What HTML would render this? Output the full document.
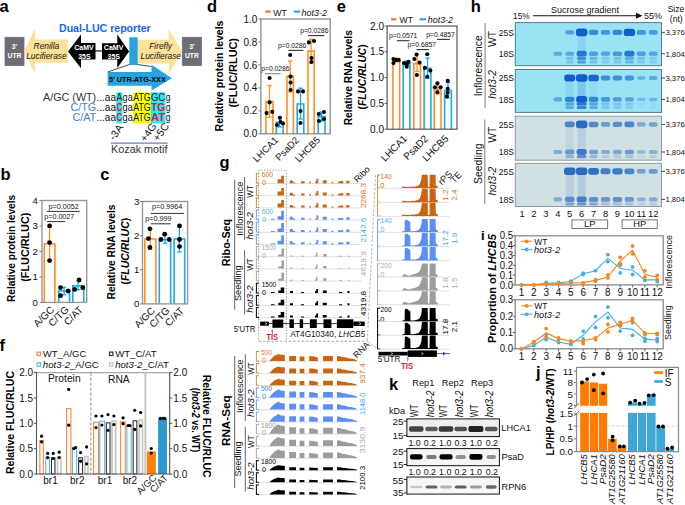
<!DOCTYPE html>
<html><head><meta charset="utf-8"><style>
html,body{margin:0;padding:0;background:#fff;width:685px;height:505px;overflow:hidden}
svg{display:block;font-family:"Liberation Sans", sans-serif}
</style></head><body>
<svg width="685" height="505" viewBox="0 0 685 505">
<defs>
<filter id="bl" x="-20%" y="-50%" width="140%" height="200%"><feGaussianBlur stdDeviation="0.7"/></filter>
<filter id="bl2" x="-20%" y="-50%" width="140%" height="200%"><feGaussianBlur stdDeviation="1.0"/></filter>
</defs>
<text x="-0.5" y="11.8" font-weight="bold" font-size="16.5" >a</text>
<rect x="5" y="37.3" width="19" height="28.2" fill="#6e6e72" stroke="#5f6f9f" stroke-width="0.8" />
<text x="14.5" y="48.5" text-anchor="middle" font-weight="bold" fill="#fff" font-size="6.8" >3'</text>
<text x="14.5" y="57.9" text-anchor="middle" font-weight="bold" fill="#fff" font-size="6.8" >UTR</text>
<rect x="182.3" y="37.3" width="19.2" height="28.2" fill="#6e6e72" stroke="#5f6f9f" stroke-width="0.8" />
<text x="191.9" y="48.5" text-anchor="middle" font-weight="bold" fill="#fff" font-size="6.8" >3'</text>
<text x="191.9" y="57.9" text-anchor="middle" font-weight="bold" fill="#fff" font-size="6.8" >UTR</text>
<path d="M24 51.2 L35 28.6 L35 39.4 L68 39.4 L68 62.8 L35 62.8 L35 73.8 Z" fill="#fde29b" />
<path d="M137.7 39.8 L168.7 39.8 L168.7 28.9 L182.3 51.4 L168.7 73.9 L168.7 63.4 L137.7 63.4 Z" fill="#fde29b" />
<text x="46.4" y="48.5" text-anchor="middle" font-style="italic" fill="#111" font-size="8.4" >Renilla</text>
<text x="46.4" y="58.8" text-anchor="middle" font-style="italic" fill="#111" font-size="8.4" >Lucifierase</text>
<text x="160.6" y="49" text-anchor="middle" font-style="italic" fill="#111" font-size="8.4" >Firefly</text>
<text x="160.8" y="59.4" text-anchor="middle" font-style="italic" fill="#111" font-size="8.4" >Lucifierase</text>
<path d="M68 51.4 L81 34.6 L81 43 L95.5 43 L95.5 59.6 L81 59.6 L81 68.3 Z" fill="#000" />
<line x1="95" y1="51" x2="102.5" y2="51" stroke="#000" stroke-width="1.1" />
<path d="M102 43.2 L117.3 43.2 L117.3 34.6 L129.1 51.4 L117.3 68.1 L117.3 59.5 L102 59.5 Z" fill="#000" />
<text x="84" y="49.5" text-anchor="middle" font-weight="bold" fill="#fff" font-size="7" >CaMV</text>
<text x="84.4" y="58.6" text-anchor="middle" font-weight="bold" fill="#fff" font-size="7" >35S</text>
<text x="113.6" y="49.5" text-anchor="middle" font-weight="bold" fill="#fff" font-size="7" >CaMV</text>
<text x="113.8" y="58.6" text-anchor="middle" font-weight="bold" fill="#fff" font-size="7" >35S</text>
<rect x="129.3" y="37.3" width="8.4" height="27.7" fill="#27a4dd" />
<text x="59" y="31.7" font-weight="bold" fill="#1763f5" textLength="91.7" lengthAdjust="spacingAndGlyphs" font-size="10.6" >Dual-LUC reporter</text>
<line x1="129.5" y1="64.5" x2="107.7" y2="72" stroke="#000" stroke-width="0.7" />
<line x1="137.5" y1="64.5" x2="151.5" y2="66.5" stroke="#000" stroke-width="0.7" />
<path d="M107.7 72 L151.5 72 L151.5 64.8 L171.9 78.2 L151.5 90.6 L151.5 85.8 L107.7 85.8 Z" fill="#27a4dd" />
<text x="109" y="81.9" font-weight="bold" textLength="56.8" lengthAdjust="spacingAndGlyphs" font-size="7" >5' UTR-ATG-XXX</text>
<rect x="116.3" y="92.3" width="6.1" height="31.2" fill="#33e6f2" />
<rect x="133" y="92.3" width="17.8" height="31.2" fill="#ffff00" />
<rect x="150.8" y="92.3" width="14.7" height="31.2" fill="#33e6f2" />
<text x="43" y="100.8" fill="#333" textLength="53.2" lengthAdjust="spacingAndGlyphs" font-size="10.8" >A/GC (WT)</text>
<text x="96.4" y="100.8" fill="#111" textLength="19.6" lengthAdjust="spacingAndGlyphs" font-size="10.8" >...aa</text>
<text x="116.6" y="100.8" fill="#222" textLength="5.8" lengthAdjust="spacingAndGlyphs" font-size="10.8" >A</text>
<text x="122.6" y="100.8" fill="#111" textLength="10.2" lengthAdjust="spacingAndGlyphs" font-size="10.8" >ga</text>
<text x="133.2" y="100.8" fill="#111" textLength="17.4" lengthAdjust="spacingAndGlyphs" font-size="10.8" >ATG</text>
<text x="151" y="100.8" fill="#222" textLength="14.2" lengthAdjust="spacingAndGlyphs" font-size="10.8" >GC</text>
<text x="165.8" y="100.8" fill="#111" textLength="4.8" lengthAdjust="spacingAndGlyphs" font-size="10.8" >g</text>
<text x="96.2" y="110.7" text-anchor="end" fill="#3c7fd4" font-size="10.8" >C/TG</text>
<text x="96.4" y="110.7" fill="#111" textLength="19.6" lengthAdjust="spacingAndGlyphs" font-size="10.8" >...aa</text>
<text x="116.6" y="110.7" font-weight="bold" fill="#c8233f" textLength="5.8" lengthAdjust="spacingAndGlyphs" font-size="10.8" >C</text>
<text x="122.6" y="110.7" fill="#111" textLength="10.2" lengthAdjust="spacingAndGlyphs" font-size="10.8" >ga</text>
<text x="133.2" y="110.7" fill="#111" textLength="17.4" lengthAdjust="spacingAndGlyphs" font-size="10.8" >ATG</text>
<text x="151" y="110.7" font-weight="bold" fill="#c8233f" textLength="14.2" lengthAdjust="spacingAndGlyphs" font-size="10.8" >TG</text>
<text x="165.8" y="110.7" fill="#111" textLength="4.8" lengthAdjust="spacingAndGlyphs" font-size="10.8" >g</text>
<text x="96.2" y="121.1" text-anchor="end" fill="#3c7fd4" font-size="10.8" >C/AT</text>
<text x="96.4" y="121.1" fill="#111" textLength="19.6" lengthAdjust="spacingAndGlyphs" font-size="10.8" >...aa</text>
<text x="116.6" y="121.1" font-weight="bold" fill="#c8233f" textLength="5.8" lengthAdjust="spacingAndGlyphs" font-size="10.8" >C</text>
<text x="122.6" y="121.1" fill="#111" textLength="10.2" lengthAdjust="spacingAndGlyphs" font-size="10.8" >ga</text>
<text x="133.2" y="121.1" fill="#111" textLength="17.4" lengthAdjust="spacingAndGlyphs" font-size="10.8" >ATG</text>
<text x="151" y="121.1" font-weight="bold" fill="#c8233f" textLength="14.2" lengthAdjust="spacingAndGlyphs" font-size="10.8" >AT</text>
<text x="165.8" y="121.1" fill="#111" textLength="4.8" lengthAdjust="spacingAndGlyphs" font-size="10.8" >g</text>
<text transform="translate(114.3,141) rotate(-55)" fill="#111" font-size="10.5" >-3A</text>
<text transform="translate(145.5,142.6) rotate(-55)" fill="#111" font-size="10.5" >+4G</text>
<text transform="translate(158.3,142) rotate(-55)" fill="#111" font-size="10.5" >+5C</text>
<line x1="111" y1="143.2" x2="167.5" y2="143.2" stroke="#6b7fb5" stroke-width="1.2" />
<text x="111" y="153" fill="#333" textLength="56.5" lengthAdjust="spacingAndGlyphs" font-size="10.8" >Kozak motif</text>
<text x="0.5" y="179.9" font-weight="bold" font-size="16.5" >b</text>
<path d="M44.3 302.4 L44.3 243.81 L54.9 243.81 L54.9 302.4" fill="none" stroke="#ff8f1f" stroke-width="1.6" />
<path d="M58.7 302.4 L58.7 290.94 L69.5 290.94 L69.5 302.4" fill="none" stroke="#1aa8ef" stroke-width="1.6" />
<path d="M72.8 302.4 L72.8 285.84 L83.7 285.84 L83.7 302.4" fill="none" stroke="#1aa8ef" stroke-width="1.6" />
<line x1="49.6" y1="225.97" x2="49.6" y2="261.13" stroke="#ff8f1f" stroke-width="1.3" />
<line x1="47.4" y1="225.97" x2="51.8" y2="225.97" stroke="#ff8f1f" stroke-width="1.3" />
<line x1="47.4" y1="261.13" x2="51.8" y2="261.13" stroke="#ff8f1f" stroke-width="1.3" />
<line x1="64.1" y1="287.12" x2="64.1" y2="294.76" stroke="#1aa8ef" stroke-width="1.3" />
<line x1="61.9" y1="287.12" x2="66.3" y2="287.12" stroke="#1aa8ef" stroke-width="1.3" />
<line x1="61.9" y1="294.76" x2="66.3" y2="294.76" stroke="#1aa8ef" stroke-width="1.3" />
<line x1="78.2" y1="280.75" x2="78.2" y2="289.66" stroke="#1aa8ef" stroke-width="1.3" />
<line x1="76" y1="280.75" x2="80.4" y2="280.75" stroke="#1aa8ef" stroke-width="1.3" />
<line x1="76" y1="289.66" x2="80.4" y2="289.66" stroke="#1aa8ef" stroke-width="1.3" />
<circle cx="49.6" cy="225.9" r="2.4" fill="#000"/>
<circle cx="49.6" cy="242.6" r="2.4" fill="#000"/>
<circle cx="49.6" cy="260.6" r="2.4" fill="#000"/>
<circle cx="60.5" cy="287.7" r="2.4" fill="#000"/>
<circle cx="68.2" cy="291" r="2.4" fill="#000"/>
<circle cx="60.5" cy="295.7" r="2.4" fill="#000"/>
<circle cx="74.7" cy="289.4" r="2.4" fill="#000"/>
<circle cx="79.1" cy="280" r="2.4" fill="#000"/>
<circle cx="82.8" cy="287.7" r="2.4" fill="#000"/>
<rect x="42" y="200.5" width="44.7" height="101.9" fill="none" stroke="#999" stroke-width="1.4" />
<line x1="39.5" y1="302.4" x2="42" y2="302.4" stroke="#808080" stroke-width="1" />
<text x="37.9" y="305.8" text-anchor="end" fill="#111" font-size="9.6" >0</text>
<line x1="39.5" y1="276.92" x2="42" y2="276.92" stroke="#808080" stroke-width="1" />
<text x="37.9" y="280.32" text-anchor="end" fill="#111" font-size="9.6" >1</text>
<line x1="39.5" y1="251.45" x2="42" y2="251.45" stroke="#808080" stroke-width="1" />
<text x="37.9" y="254.85" text-anchor="end" fill="#111" font-size="9.6" >2</text>
<line x1="39.5" y1="225.97" x2="42" y2="225.97" stroke="#808080" stroke-width="1" />
<text x="37.9" y="229.38" text-anchor="end" fill="#111" font-size="9.6" >3</text>
<line x1="39.5" y1="200.5" x2="42" y2="200.5" stroke="#808080" stroke-width="1" />
<text x="37.9" y="203.9" text-anchor="end" fill="#111" font-size="9.6" >4</text>
<text x="63.6" y="208.5" text-anchor="middle" fill="#111" font-size="7.2" >p=0.0052</text>
<line x1="47" y1="211.4" x2="79.7" y2="211.4" stroke="#333" stroke-width="1" />
<text x="44.2" y="219" fill="#111" font-size="7.2" >p=0.0027</text>
<line x1="47" y1="221.6" x2="65.3" y2="221.6" stroke="#333" stroke-width="1" />
<text transform="translate(15,248.4) rotate(-90)" text-anchor="middle" font-weight="bold" textLength="107.2" lengthAdjust="spacingAndGlyphs" font-size="10.3" >Relative protein levels</text>
<text transform="translate(29,247.2) rotate(-90)" text-anchor="middle" font-weight="bold" textLength="69.1" lengthAdjust="spacingAndGlyphs" font-size="10.3" >(FLUC/RLUC)</text>
<text transform="translate(54.9,310.3) rotate(-45)" text-anchor="end" fill="#111" font-size="10" >A/GC</text>
<text transform="translate(69.4,310.3) rotate(-45)" text-anchor="end" fill="#111" font-size="10" >C/TG</text>
<text transform="translate(83.5,310.3) rotate(-45)" text-anchor="end" fill="#111" font-size="10" >C/AT</text>
<text x="100.3" y="179.9" font-weight="bold" font-size="16.5" >c</text>
<path d="M144.8 303.9 L144.8 239.05 L155.9 239.05 L155.9 303.9" fill="none" stroke="#ff8f1f" stroke-width="1.6" />
<path d="M159.3 303.9 L159.3 239.73 L170.7 239.73 L170.7 303.9" fill="none" stroke="#1aa8ef" stroke-width="1.6" />
<path d="M174.1 303.9 L174.1 239.05 L184.7 239.05 L184.7 303.9" fill="none" stroke="#1aa8ef" stroke-width="1.6" />
<line x1="150.4" y1="228.81" x2="150.4" y2="249.29" stroke="#ff8f1f" stroke-width="1.3" />
<line x1="148.2" y1="228.81" x2="152.6" y2="228.81" stroke="#ff8f1f" stroke-width="1.3" />
<line x1="148.2" y1="249.29" x2="152.6" y2="249.29" stroke="#ff8f1f" stroke-width="1.3" />
<line x1="165" y1="234.95" x2="165" y2="243.14" stroke="#1aa8ef" stroke-width="1.3" />
<line x1="162.8" y1="234.95" x2="167.2" y2="234.95" stroke="#1aa8ef" stroke-width="1.3" />
<line x1="162.8" y1="243.14" x2="167.2" y2="243.14" stroke="#1aa8ef" stroke-width="1.3" />
<line x1="179.4" y1="225.39" x2="179.4" y2="252.02" stroke="#1aa8ef" stroke-width="1.3" />
<line x1="177.2" y1="225.39" x2="181.6" y2="225.39" stroke="#1aa8ef" stroke-width="1.3" />
<line x1="177.2" y1="252.02" x2="181.6" y2="252.02" stroke="#1aa8ef" stroke-width="1.3" />
<circle cx="149.9" cy="228.8" r="2.4" fill="#000"/>
<circle cx="148.4" cy="238.6" r="2.4" fill="#000"/>
<circle cx="149.9" cy="247.5" r="2.4" fill="#000"/>
<circle cx="160.9" cy="239.5" r="2.4" fill="#000"/>
<circle cx="164.7" cy="234.2" r="2.4" fill="#000"/>
<circle cx="169.2" cy="239.5" r="2.4" fill="#000"/>
<circle cx="179.5" cy="225.9" r="2.4" fill="#000"/>
<circle cx="179.5" cy="239.5" r="2.4" fill="#000"/>
<circle cx="179.5" cy="246.6" r="2.4" fill="#000"/>
<rect x="142.5" y="201.5" width="45.1" height="102.4" fill="none" stroke="#999" stroke-width="1.4" />
<line x1="140" y1="303.9" x2="142.5" y2="303.9" stroke="#808080" stroke-width="1" />
<text x="139.3" y="307.3" text-anchor="end" fill="#111" font-size="9.6" >0</text>
<line x1="140" y1="269.77" x2="142.5" y2="269.77" stroke="#808080" stroke-width="1" />
<text x="139.3" y="273.17" text-anchor="end" fill="#111" font-size="9.6" >1</text>
<line x1="140" y1="235.63" x2="142.5" y2="235.63" stroke="#808080" stroke-width="1" />
<text x="139.3" y="239.03" text-anchor="end" fill="#111" font-size="9.6" >2</text>
<line x1="140" y1="201.5" x2="142.5" y2="201.5" stroke="#808080" stroke-width="1" />
<text x="139.3" y="204.9" text-anchor="end" fill="#111" font-size="9.6" >3</text>
<text x="167.2" y="209" text-anchor="middle" fill="#111" font-size="7.2" >p=0.9964</text>
<line x1="150.8" y1="213.4" x2="184" y2="213.4" stroke="#333" stroke-width="1" />
<text x="145.3" y="220.8" fill="#111" font-size="7.2" >p=0.999</text>
<line x1="150.8" y1="223.8" x2="170.6" y2="223.8" stroke="#333" stroke-width="1" />
<text transform="translate(115,252) rotate(-90)" text-anchor="middle" font-weight="bold" textLength="95" lengthAdjust="spacingAndGlyphs" font-size="10.3" >Relative RNA levels</text>
<text transform="translate(129,251.2) rotate(-90)" text-anchor="middle" font-weight="bold" textLength="66.8" lengthAdjust="spacingAndGlyphs" font-size="10.3" >(<tspan font-style="italic">FLUC/RLUC</tspan>)</text>
<text transform="translate(155.7,311.3) rotate(-45)" text-anchor="end" fill="#111" font-size="10" >A/GC</text>
<text transform="translate(170.3,311.3) rotate(-45)" text-anchor="end" fill="#111" font-size="10" >C/TG</text>
<text transform="translate(184.7,311.3) rotate(-45)" text-anchor="end" fill="#111" font-size="10" >C/AT</text>
<text x="-0.5" y="351.4" font-weight="bold" font-size="16.5" >f</text>
<rect x="37.1" y="352.1" width="3.4" height="3.4" fill="#fff" stroke="#f58a4b" stroke-width="1.2" />
<text x="42.8" y="357.1" fill="#111" font-size="9.6" >WT_A/GC</text>
<rect x="37.1" y="362.8" width="3.4" height="3.4" fill="#fff" stroke="#5ab8ee" stroke-width="1.2" />
<text x="42.8" y="367.8" fill="#111" font-size="9.6" ><tspan font-style="italic">hot3-2</tspan>_A/GC</text>
<rect x="109.5" y="352.1" width="3.4" height="3.4" fill="#fff" stroke="#333" stroke-width="1.2" />
<text x="115.2" y="357.1" fill="#111" font-size="9.6" >WT_C/AT</text>
<rect x="109.5" y="362.8" width="3.4" height="3.4" fill="#fff" stroke="#c4c4c4" stroke-width="1.2" />
<text x="115.2" y="367.8" fill="#111" font-size="9.6" ><tspan font-style="italic">hot3-2</tspan>_C/AT</text>
<rect x="39.85" y="440.58" width="3.5" height="33.42" fill="#fffaf5" stroke="#f58a4b" stroke-width="1.1" />
<rect x="45.75" y="457.31" width="3.7" height="16.69" fill="#fff" stroke="#5ab8ee" stroke-width="1.1" />
<rect x="51.45" y="457.82" width="3.5" height="16.18" fill="#fff" stroke="#333" stroke-width="1.1" />
<rect x="57.5" y="457.06" width="3.4" height="16.94" fill="#fff" stroke="#c4c4c4" stroke-width="1.6" />
<rect x="66.55" y="408.64" width="4.3" height="65.36" fill="#fffaf5" stroke="#f58a4b" stroke-width="1.1" />
<rect x="72.45" y="447.17" width="4.2" height="26.83" fill="#fff" stroke="#5ab8ee" stroke-width="1.1" />
<rect x="78.65" y="457.82" width="3.9" height="16.18" fill="#fff" stroke="#333" stroke-width="1.1" />
<rect x="85" y="456.55" width="3" height="17.45" fill="#fff" stroke="#c4c4c4" stroke-width="1.6" />
<rect x="93.55" y="422.33" width="4.9" height="51.67" fill="#fffaf5" stroke="#f58a4b" stroke-width="1.1" />
<rect x="99.75" y="421.31" width="4.9" height="52.69" fill="#fff" stroke="#5ab8ee" stroke-width="1.1" />
<rect x="106.35" y="422.84" width="3.7" height="51.16" fill="#fff" stroke="#333" stroke-width="1.1" />
<rect x="112" y="421.06" width="3.7" height="52.94" fill="#fff" stroke="#c4c4c4" stroke-width="1.6" />
<rect x="120.65" y="421.82" width="4.6" height="52.18" fill="#fffaf5" stroke="#f58a4b" stroke-width="1.1" />
<rect x="126.85" y="425.88" width="4.3" height="48.12" fill="#fff" stroke="#5ab8ee" stroke-width="1.1" />
<rect x="133.15" y="420.81" width="3.7" height="53.19" fill="#fff" stroke="#333" stroke-width="1.1" />
<rect x="139.1" y="420.04" width="3.4" height="53.96" fill="#fff" stroke="#c4c4c4" stroke-width="1.6" />
<rect x="146.9" y="451.4" width="8.9" height="22.6" fill="#ff7f00" />
<rect x="158.1" y="418.7" width="8.9" height="55.3" fill="#2f97cf" />
<circle cx="41.6" cy="436.2" r="1.6" fill="#000"/>
<circle cx="41.6" cy="441.8" r="1.6" fill="#000"/>
<circle cx="47.6" cy="453.4" r="1.6" fill="#000"/>
<circle cx="47.6" cy="457.6" r="1.6" fill="#000"/>
<circle cx="53.2" cy="453.4" r="1.6" fill="#000"/>
<circle cx="53.2" cy="458.5" r="1.6" fill="#000"/>
<circle cx="59.2" cy="452.2" r="1.6" fill="#000"/>
<circle cx="59.2" cy="457.6" r="1.6" fill="#000"/>
<circle cx="68.7" cy="389.4" r="1.6" fill="#000"/>
<circle cx="68.7" cy="425.2" r="1.6" fill="#000"/>
<circle cx="73.9" cy="448.6" r="1.6" fill="#000"/>
<circle cx="75.6" cy="447.5" r="1.6" fill="#000"/>
<circle cx="80.6" cy="452.6" r="1.6" fill="#000"/>
<circle cx="80.6" cy="461.2" r="1.6" fill="#000"/>
<circle cx="86.6" cy="446.9" r="1.6" fill="#000"/>
<circle cx="86.6" cy="463.8" r="1.6" fill="#000"/>
<circle cx="96" cy="416" r="1.6" fill="#000"/>
<circle cx="96" cy="427.6" r="1.6" fill="#000"/>
<circle cx="101.9" cy="416" r="1.6" fill="#000"/>
<circle cx="101.9" cy="425" r="1.6" fill="#000"/>
<circle cx="108" cy="414.6" r="1.6" fill="#000"/>
<circle cx="108" cy="430.3" r="1.6" fill="#000"/>
<circle cx="113.9" cy="416" r="1.6" fill="#000"/>
<circle cx="113.9" cy="424.6" r="1.6" fill="#000"/>
<circle cx="123.1" cy="417.8" r="1.6" fill="#000"/>
<circle cx="123.1" cy="423.7" r="1.6" fill="#000"/>
<circle cx="128.1" cy="425.5" r="1.6" fill="#000"/>
<circle cx="129.9" cy="425.5" r="1.6" fill="#000"/>
<circle cx="134.7" cy="410.3" r="1.6" fill="#000"/>
<circle cx="134.7" cy="429.4" r="1.6" fill="#000"/>
<circle cx="140.6" cy="412.5" r="1.6" fill="#000"/>
<circle cx="140.6" cy="425.9" r="1.6" fill="#000"/>
<circle cx="151.3" cy="448.5" r="1.6" fill="#000"/>
<circle cx="151.3" cy="453.1" r="1.6" fill="#000"/>
<circle cx="160.2" cy="418.4" r="1.6" fill="#000"/>
<circle cx="162.9" cy="418.4" r="1.6" fill="#000"/>
<circle cx="164.7" cy="418.4" r="1.6" fill="#000"/>
<line x1="36.5" y1="372.6" x2="169.7" y2="372.6" stroke="#a8a8a8" stroke-width="1.4" />
<line x1="36.5" y1="371.9" x2="36.5" y2="474.5" stroke="#555" stroke-width="1.1" />
<line x1="36" y1="474" x2="170.2" y2="474" stroke="#555" stroke-width="1.1" />
<line x1="169.7" y1="371.9" x2="169.7" y2="474.5" stroke="#555" stroke-width="1.1" />
<line x1="90.9" y1="372.6" x2="90.9" y2="474" stroke="#777" stroke-width="0.9" stroke-dasharray="3,2"/>
<line x1="145.4" y1="372.6" x2="145.4" y2="474" stroke="#c4c4c4" stroke-width="2" />
<line x1="33.8" y1="474" x2="36.5" y2="474" stroke="#555" stroke-width="1" />
<text x="33.2" y="477.6" text-anchor="end" fill="#111" font-size="10" >0.0</text>
<line x1="169.7" y1="474" x2="172.4" y2="474" stroke="#555" stroke-width="1" />
<text x="173.3" y="477.6" fill="#111" font-size="10" >0.0</text>
<line x1="33.8" y1="448.65" x2="36.5" y2="448.65" stroke="#555" stroke-width="1" />
<text x="33.2" y="452.25" text-anchor="end" fill="#111" font-size="10" >0.5</text>
<line x1="169.7" y1="448.65" x2="172.4" y2="448.65" stroke="#555" stroke-width="1" />
<text x="173.3" y="452.25" fill="#111" font-size="10" >0.5</text>
<line x1="33.8" y1="423.3" x2="36.5" y2="423.3" stroke="#555" stroke-width="1" />
<text x="33.2" y="426.9" text-anchor="end" fill="#111" font-size="10" >1.0</text>
<line x1="169.7" y1="423.3" x2="172.4" y2="423.3" stroke="#555" stroke-width="1" />
<text x="173.3" y="426.9" fill="#111" font-size="10" >1.0</text>
<line x1="33.8" y1="397.95" x2="36.5" y2="397.95" stroke="#555" stroke-width="1" />
<text x="33.2" y="401.55" text-anchor="end" fill="#111" font-size="10" >1.5</text>
<line x1="169.7" y1="397.95" x2="172.4" y2="397.95" stroke="#555" stroke-width="1" />
<text x="173.3" y="401.55" fill="#111" font-size="10" >1.5</text>
<line x1="33.8" y1="372.6" x2="36.5" y2="372.6" stroke="#555" stroke-width="1" />
<text x="33.2" y="376.2" text-anchor="end" fill="#111" font-size="10" >2.0</text>
<line x1="169.7" y1="372.6" x2="172.4" y2="372.6" stroke="#555" stroke-width="1" />
<text x="173.3" y="376.2" fill="#111" font-size="10" >2.0</text>
<text x="48" y="381.7" fill="#111" font-size="10.3" >Protein</text>
<text x="108" y="383" fill="#111" font-size="10.3" >RNA</text>
<text x="50.5" y="483.8" text-anchor="middle" fill="#111" font-size="10" >br1</text>
<text x="77.3" y="483.8" text-anchor="middle" fill="#111" font-size="10" >br2</text>
<text x="105" y="483.8" text-anchor="middle" fill="#111" font-size="10" >br1</text>
<text x="129.9" y="483.8" text-anchor="middle" fill="#111" font-size="10" >br2</text>
<text transform="translate(157,478.5) rotate(-45)" text-anchor="end" fill="#111" font-size="9.5" >A/GC</text>
<text transform="translate(168.5,478.5) rotate(-45)" text-anchor="end" fill="#111" font-size="9.5" >C/AT</text>
<text transform="translate(13.8,422.5) rotate(-90)" text-anchor="middle" font-weight="bold" textLength="103" lengthAdjust="spacingAndGlyphs" font-size="10.3" >Relative FLUC/RLUC</text>
<text transform="translate(191.5,420) rotate(90)" text-anchor="middle" font-weight="bold" textLength="64.3" lengthAdjust="spacingAndGlyphs" font-size="10" >(<tspan font-style="italic">hot3-2</tspan> vs. WT)</text>
<text transform="translate(203,426.2) rotate(90)" text-anchor="middle" font-weight="bold" textLength="103" lengthAdjust="spacingAndGlyphs" font-size="10" >Relative FLUC/RLUC</text>
<text x="207" y="11.8" font-weight="bold" font-size="16.5" >d</text>
<path d="M266 133.8 L266 101.66 L272.9 101.66 L272.9 133.8" fill="none" stroke="#ff8f1f" stroke-width="1.6" />
<line x1="269.45" y1="85.5" x2="269.45" y2="117.2" stroke="#ff8f1f" stroke-width="1.3" />
<line x1="267.25" y1="85.5" x2="271.65" y2="85.5" stroke="#ff8f1f" stroke-width="1.3" />
<line x1="267.25" y1="117.2" x2="271.65" y2="117.2" stroke="#ff8f1f" stroke-width="1.3" />
<path d="M276.3 133.8 L276.3 122.32 L283.1 122.32 L283.1 133.8" fill="none" stroke="#1aa8ef" stroke-width="1.6" />
<line x1="279.7" y1="117.5" x2="279.7" y2="127" stroke="#1aa8ef" stroke-width="1.3" />
<line x1="277.5" y1="117.5" x2="281.9" y2="117.5" stroke="#1aa8ef" stroke-width="1.3" />
<line x1="277.5" y1="127" x2="281.9" y2="127" stroke="#1aa8ef" stroke-width="1.3" />
<path d="M287 133.8 L287 76.4 L293.4 76.4 L293.4 133.8" fill="none" stroke="#ff8f1f" stroke-width="1.6" />
<line x1="290.2" y1="61" x2="290.2" y2="92" stroke="#ff8f1f" stroke-width="1.3" />
<line x1="288" y1="61" x2="292.4" y2="61" stroke="#ff8f1f" stroke-width="1.3" />
<line x1="288" y1="92" x2="292.4" y2="92" stroke="#ff8f1f" stroke-width="1.3" />
<path d="M297.2 133.8 L297.2 103.95 L303.8 103.95 L303.8 133.8" fill="none" stroke="#1aa8ef" stroke-width="1.6" />
<line x1="300.5" y1="88.2" x2="300.5" y2="119" stroke="#1aa8ef" stroke-width="1.3" />
<line x1="298.3" y1="88.2" x2="302.7" y2="88.2" stroke="#1aa8ef" stroke-width="1.3" />
<line x1="298.3" y1="119" x2="302.7" y2="119" stroke="#1aa8ef" stroke-width="1.3" />
<path d="M308 133.8 L308 51.14 L314.2 51.14 L314.2 133.8" fill="none" stroke="#ff8f1f" stroke-width="1.6" />
<line x1="311.1" y1="39.3" x2="311.1" y2="63" stroke="#ff8f1f" stroke-width="1.3" />
<line x1="308.9" y1="39.3" x2="313.3" y2="39.3" stroke="#ff8f1f" stroke-width="1.3" />
<line x1="308.9" y1="63" x2="313.3" y2="63" stroke="#ff8f1f" stroke-width="1.3" />
<path d="M318.2 133.8 L318.2 116.58 L325 116.58 L325 133.8" fill="none" stroke="#1aa8ef" stroke-width="1.6" />
<line x1="321.6" y1="112" x2="321.6" y2="121" stroke="#1aa8ef" stroke-width="1.3" />
<line x1="319.4" y1="112" x2="323.8" y2="112" stroke="#1aa8ef" stroke-width="1.3" />
<line x1="319.4" y1="121" x2="323.8" y2="121" stroke="#1aa8ef" stroke-width="1.3" />
<circle cx="269.6" cy="78" r="2.05" fill="#000"/>
<circle cx="269.6" cy="102.4" r="2.05" fill="#000"/>
<circle cx="266.6" cy="113.1" r="2.05" fill="#000"/>
<circle cx="272.3" cy="111.9" r="2.05" fill="#000"/>
<circle cx="280" cy="117.7" r="2.05" fill="#000"/>
<circle cx="277" cy="125" r="2.05" fill="#000"/>
<circle cx="283" cy="123.5" r="2.05" fill="#000"/>
<circle cx="280.5" cy="122" r="2.05" fill="#000"/>
<circle cx="290.2" cy="55" r="2.05" fill="#000"/>
<circle cx="290.6" cy="76.6" r="2.05" fill="#000"/>
<circle cx="290.6" cy="82.5" r="2.05" fill="#000"/>
<circle cx="290.6" cy="90" r="2.05" fill="#000"/>
<circle cx="298" cy="91.4" r="2.05" fill="#000"/>
<circle cx="303" cy="91.4" r="2.05" fill="#000"/>
<circle cx="300.5" cy="111" r="2.05" fill="#000"/>
<circle cx="300.5" cy="123" r="2.05" fill="#000"/>
<circle cx="308.9" cy="42.4" r="2.05" fill="#000"/>
<circle cx="314" cy="41" r="2.05" fill="#000"/>
<circle cx="311.5" cy="58" r="2.05" fill="#000"/>
<circle cx="311.5" cy="62" r="2.05" fill="#000"/>
<circle cx="318.8" cy="114" r="2.05" fill="#000"/>
<circle cx="324" cy="112" r="2.05" fill="#000"/>
<circle cx="319" cy="121" r="2.05" fill="#000"/>
<circle cx="324" cy="119" r="2.05" fill="#000"/>
<rect x="260.9" y="19" width="69.3" height="114.8" fill="none" stroke="#808080" stroke-width="1.2" />
<line x1="258.4" y1="133.8" x2="260.9" y2="133.8" stroke="#808080" stroke-width="1" />
<text x="257.3" y="137.4" text-anchor="end" fill="#111" font-size="10" >0.0</text>
<line x1="258.4" y1="110.84" x2="260.9" y2="110.84" stroke="#808080" stroke-width="1" />
<text x="257.3" y="114.44" text-anchor="end" fill="#111" font-size="10" >0.2</text>
<line x1="258.4" y1="87.88" x2="260.9" y2="87.88" stroke="#808080" stroke-width="1" />
<text x="257.3" y="91.48" text-anchor="end" fill="#111" font-size="10" >0.4</text>
<line x1="258.4" y1="64.92" x2="260.9" y2="64.92" stroke="#808080" stroke-width="1" />
<text x="257.3" y="68.52" text-anchor="end" fill="#111" font-size="10" >0.6</text>
<line x1="258.4" y1="41.96" x2="260.9" y2="41.96" stroke="#808080" stroke-width="1" />
<text x="257.3" y="45.56" text-anchor="end" fill="#111" font-size="10" >0.8</text>
<line x1="258.4" y1="19" x2="260.9" y2="19" stroke="#808080" stroke-width="1" />
<text x="257.3" y="22.6" text-anchor="end" fill="#111" font-size="10" >1.0</text>
<text x="300.2" y="33.3" fill="#111" textLength="28.3" lengthAdjust="spacingAndGlyphs" font-size="7.2" >p=0.0286</text>
<line x1="308" y1="35.6" x2="324.4" y2="35.6" stroke="#333" stroke-width="1.1" />
<text x="278" y="47.5" fill="#111" textLength="28.3" lengthAdjust="spacingAndGlyphs" font-size="7.2" >p=0.0286</text>
<line x1="288.3" y1="50.4" x2="303.3" y2="50.4" stroke="#333" stroke-width="1.1" />
<text x="261.3" y="70.5" fill="#111" textLength="28.3" lengthAdjust="spacingAndGlyphs" font-size="7.2" >p=0.0286</text>
<line x1="264.8" y1="73.7" x2="280.4" y2="73.7" stroke="#888" stroke-width="1.1" />
<line x1="265.3" y1="11.6" x2="270.8" y2="11.6" stroke="#f47b20" stroke-width="2.2" />
<text x="273.2" y="15.9" fill="#111" textLength="13.5" lengthAdjust="spacingAndGlyphs" font-size="9.6" >WT</text>
<line x1="293.8" y1="11.6" x2="300.2" y2="11.6" stroke="#2aa6e0" stroke-width="2.2" />
<text x="301.5" y="15.9" font-style="italic" fill="#111" textLength="25.6" lengthAdjust="spacingAndGlyphs" font-size="9.6" >hot3-2</text>
<text transform="translate(222.5,76) rotate(-90)" text-anchor="middle" font-weight="bold" textLength="110.8" lengthAdjust="spacingAndGlyphs" font-size="10.5" >Relative protein levels</text>
<text transform="translate(237,72.8) rotate(-90)" text-anchor="middle" font-weight="bold" textLength="69.6" lengthAdjust="spacingAndGlyphs" font-size="10.5" >(FLUC/RLUC)</text>
<text transform="translate(278.7,140.8) rotate(-45)" text-anchor="end" fill="#111" font-size="9.6" >LHCA1</text>
<text transform="translate(299.6,140.8) rotate(-45)" text-anchor="end" fill="#111" font-size="9.6" >PsaD2</text>
<text transform="translate(320.8,140.8) rotate(-45)" text-anchor="end" fill="#111" font-size="9.6" >LHCB5</text>
<text x="336.7" y="11.8" font-weight="bold" font-size="16.5" >e</text>
<path d="M392.9 129.2 L392.9 60.57 L399.7 60.57 L399.7 129.2" fill="none" stroke="#ff8f1f" stroke-width="1.6" />
<line x1="396.3" y1="58.5" x2="396.3" y2="62" stroke="#ff8f1f" stroke-width="1.3" />
<line x1="394.1" y1="58.5" x2="398.5" y2="58.5" stroke="#ff8f1f" stroke-width="1.3" />
<line x1="394.1" y1="62" x2="398.5" y2="62" stroke="#ff8f1f" stroke-width="1.3" />
<path d="M403.1 129.2 L403.1 63.15 L409.9 63.15 L409.9 129.2" fill="none" stroke="#1aa8ef" stroke-width="1.6" />
<line x1="406.5" y1="61" x2="406.5" y2="65" stroke="#1aa8ef" stroke-width="1.3" />
<line x1="404.3" y1="61" x2="408.7" y2="61" stroke="#1aa8ef" stroke-width="1.3" />
<line x1="404.3" y1="65" x2="408.7" y2="65" stroke="#1aa8ef" stroke-width="1.3" />
<path d="M413.8 129.2 L413.8 63.67 L420.5 63.67 L420.5 129.2" fill="none" stroke="#ff8f1f" stroke-width="1.6" />
<line x1="417.15" y1="54.2" x2="417.15" y2="71.5" stroke="#ff8f1f" stroke-width="1.3" />
<line x1="414.95" y1="54.2" x2="419.35" y2="54.2" stroke="#ff8f1f" stroke-width="1.3" />
<line x1="414.95" y1="71.5" x2="419.35" y2="71.5" stroke="#ff8f1f" stroke-width="1.3" />
<path d="M424.1 129.2 L424.1 68.31 L430.9 68.31 L430.9 129.2" fill="none" stroke="#1aa8ef" stroke-width="1.6" />
<line x1="427.5" y1="58.1" x2="427.5" y2="78" stroke="#1aa8ef" stroke-width="1.3" />
<line x1="425.3" y1="58.1" x2="429.7" y2="58.1" stroke="#1aa8ef" stroke-width="1.3" />
<line x1="425.3" y1="78" x2="429.7" y2="78" stroke="#1aa8ef" stroke-width="1.3" />
<path d="M434.3 129.2 L434.3 89.47 L441 89.47 L441 129.2" fill="none" stroke="#ff8f1f" stroke-width="1.6" />
<line x1="437.65" y1="82.5" x2="437.65" y2="94" stroke="#ff8f1f" stroke-width="1.3" />
<line x1="435.45" y1="82.5" x2="439.85" y2="82.5" stroke="#ff8f1f" stroke-width="1.3" />
<line x1="435.45" y1="94" x2="439.85" y2="94" stroke="#ff8f1f" stroke-width="1.3" />
<path d="M444.6 129.2 L444.6 90.5 L451.4 90.5 L451.4 129.2" fill="none" stroke="#1aa8ef" stroke-width="1.6" />
<line x1="448" y1="82.5" x2="448" y2="98" stroke="#1aa8ef" stroke-width="1.3" />
<line x1="445.8" y1="82.5" x2="450.2" y2="82.5" stroke="#1aa8ef" stroke-width="1.3" />
<line x1="445.8" y1="98" x2="450.2" y2="98" stroke="#1aa8ef" stroke-width="1.3" />
<circle cx="393.4" cy="59" r="2.05" fill="#000"/>
<circle cx="396" cy="59.9" r="2.05" fill="#000"/>
<circle cx="398.7" cy="59.9" r="2.05" fill="#000"/>
<circle cx="393.4" cy="63.1" r="2.05" fill="#000"/>
<circle cx="404.1" cy="63.1" r="2.05" fill="#000"/>
<circle cx="406.7" cy="64.4" r="2.05" fill="#000"/>
<circle cx="408.5" cy="61.7" r="2.05" fill="#000"/>
<circle cx="406.7" cy="66.7" r="2.05" fill="#000"/>
<circle cx="416.5" cy="54.6" r="2.05" fill="#000"/>
<circle cx="414.4" cy="59" r="2.05" fill="#000"/>
<circle cx="419.6" cy="62.6" r="2.05" fill="#000"/>
<circle cx="416.9" cy="75" r="2.05" fill="#000"/>
<circle cx="427.2" cy="54.2" r="2.05" fill="#000"/>
<circle cx="424.9" cy="67.9" r="2.05" fill="#000"/>
<circle cx="430.3" cy="70.6" r="2.05" fill="#000"/>
<circle cx="427.2" cy="76.8" r="2.05" fill="#000"/>
<circle cx="437.4" cy="83.4" r="2.05" fill="#000"/>
<circle cx="434.9" cy="87.3" r="2.05" fill="#000"/>
<circle cx="440.6" cy="87.3" r="2.05" fill="#000"/>
<circle cx="437.4" cy="92.3" r="2.05" fill="#000"/>
<circle cx="447.7" cy="80.7" r="2.05" fill="#000"/>
<circle cx="447.7" cy="88.7" r="2.05" fill="#000"/>
<circle cx="447.7" cy="92.8" r="2.05" fill="#000"/>
<circle cx="446.8" cy="96.4" r="2.05" fill="#000"/>
<rect x="387.1" y="26" width="69.9" height="103.2" fill="none" stroke="#555" stroke-width="1.2" />
<line x1="384.6" y1="129.2" x2="387.1" y2="129.2" stroke="#555" stroke-width="1" />
<text x="384" y="132.8" text-anchor="end" fill="#111" font-size="10" >0.0</text>
<line x1="384.6" y1="103.4" x2="387.1" y2="103.4" stroke="#555" stroke-width="1" />
<text x="384" y="107" text-anchor="end" fill="#111" font-size="10" >0.5</text>
<line x1="384.6" y1="77.6" x2="387.1" y2="77.6" stroke="#555" stroke-width="1" />
<text x="384" y="81.2" text-anchor="end" fill="#111" font-size="10" >1.0</text>
<line x1="384.6" y1="51.8" x2="387.1" y2="51.8" stroke="#555" stroke-width="1" />
<text x="384" y="55.4" text-anchor="end" fill="#111" font-size="10" >1.5</text>
<line x1="384.6" y1="26" x2="387.1" y2="26" stroke="#555" stroke-width="1" />
<text x="384" y="29.6" text-anchor="end" fill="#111" font-size="10" >2.0</text>
<text x="388.9" y="37.6" fill="#111" textLength="28.5" lengthAdjust="spacingAndGlyphs" font-size="7.2" >p=0.0571</text>
<line x1="397" y1="40.7" x2="409.4" y2="40.7" stroke="#333" stroke-width="1.1" />
<text x="407.6" y="47.4" fill="#111" textLength="28.5" lengthAdjust="spacingAndGlyphs" font-size="7.2" >p=0.6857</text>
<line x1="416.5" y1="49.6" x2="429" y2="49.6" stroke="#333" stroke-width="1.1" />
<text x="426.3" y="36.7" fill="#111" textLength="28.5" lengthAdjust="spacingAndGlyphs" font-size="7.2" >p=0.4857</text>
<line x1="437" y1="39.4" x2="449.9" y2="39.4" stroke="#333" stroke-width="1.1" />
<line x1="391" y1="19.3" x2="396.4" y2="19.3" stroke="#f47b20" stroke-width="2.2" />
<text x="399.6" y="22.9" fill="#111" textLength="13.4" lengthAdjust="spacingAndGlyphs" font-size="9.6" >WT</text>
<line x1="419.6" y1="19.3" x2="426" y2="19.3" stroke="#2aa6e0" stroke-width="2.2" />
<text x="427.8" y="22.9" font-style="italic" fill="#111" textLength="25.2" lengthAdjust="spacingAndGlyphs" font-size="9.6" >hot3-2</text>
<text transform="translate(352,77.7) rotate(-90)" text-anchor="middle" font-weight="bold" textLength="95.2" lengthAdjust="spacingAndGlyphs" font-size="10.5" >Relative RNA levels</text>
<text transform="translate(366,76.9) rotate(-90)" text-anchor="middle" font-weight="bold" textLength="65" lengthAdjust="spacingAndGlyphs" font-size="10.5" >(<tspan font-style="italic">FLUC/RLUC</tspan>)</text>
<text transform="translate(407.8,139.2) rotate(-45)" text-anchor="end" fill="#111" font-size="10" >LHCA1</text>
<text transform="translate(428.7,139.2) rotate(-45)" text-anchor="end" fill="#111" font-size="10" >PsaD2</text>
<text transform="translate(449.2,139.2) rotate(-45)" text-anchor="end" fill="#111" font-size="10" >LHCB5</text>
<text x="470.8" y="11.8" font-weight="bold" font-size="16.5" >h</text>
<text x="513" y="18.5" fill="#111" textLength="16.7" lengthAdjust="spacingAndGlyphs" font-size="9" >15%</text>
<text x="551.1" y="12.8" fill="#111" textLength="67.9" lengthAdjust="spacingAndGlyphs" font-size="9" >Sucrose gradient</text>
<line x1="533" y1="15.8" x2="637" y2="15.8" stroke="#111" stroke-width="1.1" />
<path d="M636 12.8 L642.5 15.8 L636 18.8 Z" fill="#111" />
<text x="644" y="18.5" fill="#111" textLength="17.8" lengthAdjust="spacingAndGlyphs" font-size="9" >55%</text>
<text x="676" y="12" text-anchor="middle" fill="#111" font-size="8.6" >Size</text>
<text x="676.3" y="21.8" text-anchor="middle" fill="#111" font-size="8.6" >(nt)</text>
<rect x="515.3" y="22.6" width="146.2" height="43.1" fill="#99e3f4" stroke="#4f7d8c" stroke-width="1" />
<g filter="url(#bl)">
<rect x="553.51" y="51.66" width="8.55" height="4.08" rx="1.63" fill="#0f60cc" fill-opacity="0.46"/>
<rect x="565.37" y="30.21" width="8.7" height="4.38" rx="1.75" fill="#0f60cc" fill-opacity="0.52"/>
<rect x="565.45" y="51.66" width="8.55" height="4.08" rx="1.63" fill="#0f60cc" fill-opacity="0.46"/>
<rect x="565.95" y="56.7" width="7.55" height="3.2" rx="1.28" fill="#0f60cc" fill-opacity="0.26"/>
<rect x="566.2" y="60.4" width="7.05" height="3" rx="1.2" fill="#0f60cc" fill-opacity="0.22"/>
<rect x="577.65" y="34.4" width="8" height="17.3" fill="#0f60cc" fill-opacity="0.12"/>
<rect x="575.9" y="28.6" width="11.5" height="7.6" rx="3.04" fill="#0f60cc" fill-opacity="1"/>
<rect x="576.59" y="50.85" width="10.12" height="5.7" rx="2.28" fill="#0f60cc" fill-opacity="0.84"/>
<rect x="577.09" y="56.7" width="9.12" height="3.2" rx="1.28" fill="#0f60cc" fill-opacity="0.64"/>
<rect x="577.34" y="60.4" width="8.62" height="3" rx="1.2" fill="#0f60cc" fill-opacity="0.54"/>
<rect x="588.93" y="29.86" width="9.3" height="5.07" rx="2.03" fill="#0f60cc" fill-opacity="0.66"/>
<rect x="589.13" y="51.48" width="8.9" height="4.44" rx="1.78" fill="#0f60cc" fill-opacity="0.54"/>
<rect x="589.63" y="56.7" width="7.9" height="3.2" rx="1.28" fill="#0f60cc" fill-opacity="0.34"/>
<rect x="589.88" y="60.4" width="7.4" height="3" rx="1.2" fill="#0f60cc" fill-opacity="0.29"/>
<rect x="600.96" y="29.98" width="9.1" height="4.84" rx="1.94" fill="#0f60cc" fill-opacity="0.61"/>
<rect x="601.15" y="51.57" width="8.72" height="4.26" rx="1.7" fill="#0f60cc" fill-opacity="0.5"/>
<rect x="601.65" y="56.7" width="7.72" height="3.2" rx="1.28" fill="#0f60cc" fill-opacity="0.19"/>
<rect x="601.9" y="60.4" width="7.22" height="3" rx="1.2" fill="#0f60cc" fill-opacity="0.16"/>
<rect x="612.69" y="29.75" width="9.5" height="5.3" rx="2.12" fill="#0f60cc" fill-opacity="0.7"/>
<rect x="612.9" y="51.39" width="9.07" height="4.62" rx="1.85" fill="#0f60cc" fill-opacity="0.58"/>
<rect x="613.4" y="56.7" width="8.07" height="3.2" rx="1.28" fill="#0f60cc" fill-opacity="0.25"/>
<rect x="613.65" y="60.4" width="7.57" height="3" rx="1.2" fill="#0f60cc" fill-opacity="0.21"/>
<rect x="623.72" y="28.71" width="11.3" height="7.37" rx="2.95" fill="#0f60cc" fill-opacity="1"/>
<rect x="624.31" y="50.85" width="10.12" height="5.7" rx="2.28" fill="#0f60cc" fill-opacity="0.84"/>
<rect x="624.81" y="56.7" width="9.12" height="3.2" rx="1.28" fill="#0f60cc" fill-opacity="0.41"/>
<rect x="625.06" y="60.4" width="8.62" height="3" rx="1.2" fill="#0f60cc" fill-opacity="0.35"/>
<rect x="636.75" y="29.98" width="9.1" height="4.84" rx="1.94" fill="#0f60cc" fill-opacity="0.61"/>
<rect x="636.85" y="51.48" width="8.9" height="4.44" rx="1.78" fill="#0f60cc" fill-opacity="0.54"/>
<rect x="637.35" y="56.7" width="7.9" height="3.2" rx="1.28" fill="#0f60cc" fill-opacity="0.22"/>
<rect x="637.6" y="60.4" width="7.4" height="3" rx="1.2" fill="#0f60cc" fill-opacity="0.19"/>
<rect x="648.78" y="30.09" width="8.9" height="4.61" rx="1.84" fill="#0f60cc" fill-opacity="0.56"/>
<rect x="648.87" y="51.57" width="8.72" height="4.26" rx="1.7" fill="#0f60cc" fill-opacity="0.5"/>
<rect x="649.37" y="56.7" width="7.72" height="3.2" rx="1.28" fill="#0f60cc" fill-opacity="0.19"/>
<rect x="649.62" y="60.4" width="7.22" height="3" rx="1.2" fill="#0f60cc" fill-opacity="0.16"/>
</g>
<text x="514" y="35.8" text-anchor="end" fill="#111" textLength="15.2" lengthAdjust="spacingAndGlyphs" font-size="9.4" >25S</text>
<text x="514" y="57.1" text-anchor="end" fill="#111" textLength="15.2" lengthAdjust="spacingAndGlyphs" font-size="9.4" >18S</text>
<line x1="661.5" y1="32.4" x2="665" y2="32.4" stroke="#333" stroke-width="0.9" />
<line x1="661.5" y1="53.7" x2="665" y2="53.7" stroke="#333" stroke-width="0.9" />
<text x="665.4" y="35.2" fill="#111" textLength="19.4" lengthAdjust="spacingAndGlyphs" font-size="7.8" >3,376</text>
<text x="665.4" y="56.5" fill="#111" textLength="19.4" lengthAdjust="spacingAndGlyphs" font-size="7.8" >1,804</text>
<rect x="515.3" y="69.5" width="146.2" height="42.9" fill="#99e3f4" stroke="#4f7d8c" stroke-width="1" />
<g filter="url(#bl)">
<rect x="553.51" y="97.36" width="8.55" height="4.08" rx="1.63" fill="#0f60cc" fill-opacity="0.46"/>
<rect x="565.72" y="80" width="8" height="17.4" fill="#0f60cc" fill-opacity="0.1"/>
<rect x="564.27" y="74.55" width="10.9" height="6.91" rx="2.76" fill="#0f60cc" fill-opacity="1"/>
<rect x="564.92" y="96.82" width="9.6" height="5.16" rx="2.06" fill="#0f60cc" fill-opacity="0.71"/>
<rect x="565.42" y="102.4" width="8.6" height="3.2" rx="1.28" fill="#0f60cc" fill-opacity="0.51"/>
<rect x="565.67" y="106.1" width="8.1" height="3" rx="1.2" fill="#0f60cc" fill-opacity="0.43"/>
<rect x="577.65" y="80" width="8" height="17.4" fill="#0f60cc" fill-opacity="0.2"/>
<rect x="575.9" y="74.2" width="11.5" height="7.6" rx="3.04" fill="#0f60cc" fill-opacity="1"/>
<rect x="576.15" y="96.1" width="11" height="6.6" rx="2.64" fill="#0f60cc" fill-opacity="1"/>
<rect x="576.65" y="102.4" width="10" height="3.2" rx="1.28" fill="#0f60cc" fill-opacity="0.85"/>
<rect x="576.9" y="106.1" width="9.5" height="3" rx="1.2" fill="#0f60cc" fill-opacity="0.72"/>
<rect x="589.58" y="80" width="8" height="17.4" fill="#0f60cc" fill-opacity="0.06"/>
<rect x="588.33" y="74.78" width="10.5" height="6.45" rx="2.58" fill="#0f60cc" fill-opacity="0.93"/>
<rect x="588.78" y="96.82" width="9.6" height="5.16" rx="2.06" fill="#0f60cc" fill-opacity="0.71"/>
<rect x="589.28" y="102.4" width="8.6" height="3.2" rx="1.28" fill="#0f60cc" fill-opacity="0.51"/>
<rect x="589.53" y="106.1" width="8.1" height="3" rx="1.2" fill="#0f60cc" fill-opacity="0.43"/>
<rect x="600.86" y="75.47" width="9.3" height="5.07" rx="2.03" fill="#0f60cc" fill-opacity="0.66"/>
<rect x="600.97" y="97.09" width="9.07" height="4.62" rx="1.85" fill="#0f60cc" fill-opacity="0.58"/>
<rect x="601.47" y="102.4" width="8.07" height="3.2" rx="1.28" fill="#0f60cc" fill-opacity="0.25"/>
<rect x="601.72" y="106.1" width="7.57" height="3" rx="1.2" fill="#0f60cc" fill-opacity="0.21"/>
<rect x="612.79" y="75.47" width="9.3" height="5.07" rx="2.03" fill="#0f60cc" fill-opacity="0.66"/>
<rect x="612.99" y="97.18" width="8.9" height="4.44" rx="1.78" fill="#0f60cc" fill-opacity="0.54"/>
<rect x="613.49" y="102.4" width="7.9" height="3.2" rx="1.28" fill="#0f60cc" fill-opacity="0.22"/>
<rect x="613.74" y="106.1" width="7.4" height="3" rx="1.2" fill="#0f60cc" fill-opacity="0.19"/>
<rect x="624.82" y="75.58" width="9.1" height="4.84" rx="1.94" fill="#0f60cc" fill-opacity="0.61"/>
<rect x="625.01" y="97.27" width="8.72" height="4.26" rx="1.7" fill="#0f60cc" fill-opacity="0.5"/>
<rect x="625.51" y="102.4" width="7.72" height="3.2" rx="1.28" fill="#0f60cc" fill-opacity="0.19"/>
<rect x="625.76" y="106.1" width="7.22" height="3" rx="1.2" fill="#0f60cc" fill-opacity="0.16"/>
<rect x="637.31" y="76.22" width="7.98" height="3.55" rx="1.42" fill="#0f60cc" fill-opacity="0.36"/>
<rect x="637.38" y="97.72" width="7.85" height="3.36" rx="1.34" fill="#0f60cc" fill-opacity="0.29"/>
<rect x="637.88" y="102.4" width="6.85" height="3.2" rx="1.28" fill="#0f60cc" fill-opacity="0.06"/>
<rect x="638.12" y="106.1" width="6.35" height="3" rx="1.2" fill="#0f60cc" fill-opacity="0.05"/>
<rect x="649.08" y="76.04" width="8.3" height="3.92" rx="1.57" fill="#0f60cc" fill-opacity="0.43"/>
<rect x="649.22" y="97.63" width="8.03" height="3.54" rx="1.42" fill="#0f60cc" fill-opacity="0.33"/>
<rect x="649.72" y="102.4" width="7.03" height="3.2" rx="1.28" fill="#0f60cc" fill-opacity="0.08"/>
<rect x="649.97" y="106.1" width="6.53" height="3" rx="1.2" fill="#0f60cc" fill-opacity="0.07"/>
</g>
<text x="514" y="81.4" text-anchor="end" fill="#111" textLength="15.2" lengthAdjust="spacingAndGlyphs" font-size="9.4" >25S</text>
<text x="514" y="102.8" text-anchor="end" fill="#111" textLength="15.2" lengthAdjust="spacingAndGlyphs" font-size="9.4" >18S</text>
<line x1="661.5" y1="78" x2="665" y2="78" stroke="#333" stroke-width="0.9" />
<line x1="661.5" y1="99.4" x2="665" y2="99.4" stroke="#333" stroke-width="0.9" />
<text x="665.4" y="80.8" fill="#111" textLength="19.4" lengthAdjust="spacingAndGlyphs" font-size="7.8" >3,376</text>
<text x="665.4" y="102.2" fill="#111" textLength="19.4" lengthAdjust="spacingAndGlyphs" font-size="7.8" >1,804</text>
<rect x="515.3" y="116.2" width="146.2" height="44" fill="#d1e0e2" stroke="#8d9aa0" stroke-width="1" />
<g filter="url(#bl)">
<rect x="553.51" y="149.96" width="8.55" height="4.08" rx="1.63" fill="#2a6cc0" fill-opacity="0.46"/>
<rect x="565.72" y="126.4" width="8" height="23.6" fill="#2a6cc0" fill-opacity="0.08"/>
<rect x="564.77" y="121.52" width="9.9" height="5.76" rx="2.3" fill="#2a6cc0" fill-opacity="0.79"/>
<rect x="565.1" y="149.6" width="9.25" height="4.8" rx="1.92" fill="#2a6cc0" fill-opacity="0.62"/>
<rect x="565.6" y="155" width="8.25" height="3.2" rx="1.28" fill="#2a6cc0" fill-opacity="0.42"/>
<rect x="577.65" y="126.4" width="8" height="23.6" fill="#2a6cc0" fill-opacity="0.14"/>
<rect x="575.9" y="120.6" width="11.5" height="7.6" rx="3.04" fill="#2a6cc0" fill-opacity="1"/>
<rect x="576.5" y="149.06" width="10.3" height="5.88" rx="2.35" fill="#2a6cc0" fill-opacity="0.88"/>
<rect x="577" y="155" width="9.3" height="3.2" rx="1.28" fill="#2a6cc0" fill-opacity="0.68"/>
<rect x="588.73" y="121.64" width="9.7" height="5.53" rx="2.21" fill="#2a6cc0" fill-opacity="0.75"/>
<rect x="589.13" y="149.78" width="8.9" height="4.44" rx="1.78" fill="#2a6cc0" fill-opacity="0.54"/>
<rect x="589.63" y="155" width="7.9" height="3.2" rx="1.28" fill="#2a6cc0" fill-opacity="0.34"/>
<rect x="600.96" y="121.98" width="9.1" height="4.84" rx="1.94" fill="#2a6cc0" fill-opacity="0.61"/>
<rect x="601.24" y="149.96" width="8.55" height="4.08" rx="1.63" fill="#2a6cc0" fill-opacity="0.46"/>
<rect x="601.74" y="155" width="7.55" height="3.2" rx="1.28" fill="#2a6cc0" fill-opacity="0.17"/>
<rect x="612.69" y="121.75" width="9.5" height="5.3" rx="2.12" fill="#2a6cc0" fill-opacity="0.7"/>
<rect x="613.08" y="149.87" width="8.72" height="4.26" rx="1.7" fill="#2a6cc0" fill-opacity="0.5"/>
<rect x="613.58" y="155" width="7.72" height="3.2" rx="1.28" fill="#2a6cc0" fill-opacity="0.19"/>
<rect x="624.42" y="121.52" width="9.9" height="5.76" rx="2.3" fill="#2a6cc0" fill-opacity="0.79"/>
<rect x="624.83" y="149.69" width="9.07" height="4.62" rx="1.85" fill="#2a6cc0" fill-opacity="0.58"/>
<rect x="625.33" y="155" width="8.07" height="3.2" rx="1.28" fill="#2a6cc0" fill-opacity="0.25"/>
<rect x="636.99" y="122.26" width="8.62" height="4.29" rx="1.72" fill="#2a6cc0" fill-opacity="0.5"/>
<rect x="637.2" y="150.14" width="8.2" height="3.72" rx="1.49" fill="#2a6cc0" fill-opacity="0.37"/>
<rect x="637.7" y="155" width="7.2" height="3.2" rx="1.28" fill="#2a6cc0" fill-opacity="0.11"/>
<rect x="648.84" y="122.16" width="8.78" height="4.47" rx="1.79" fill="#2a6cc0" fill-opacity="0.54"/>
<rect x="649.04" y="150.05" width="8.38" height="3.9" rx="1.56" fill="#2a6cc0" fill-opacity="0.41"/>
<rect x="649.54" y="155" width="7.38" height="3.2" rx="1.28" fill="#2a6cc0" fill-opacity="0.14"/>
</g>
<text x="514" y="127.8" text-anchor="end" fill="#111" textLength="15.2" lengthAdjust="spacingAndGlyphs" font-size="9.4" >25S</text>
<text x="514" y="155.4" text-anchor="end" fill="#111" textLength="15.2" lengthAdjust="spacingAndGlyphs" font-size="9.4" >18S</text>
<line x1="661.5" y1="124.4" x2="665" y2="124.4" stroke="#333" stroke-width="0.9" />
<line x1="661.5" y1="152" x2="665" y2="152" stroke="#333" stroke-width="0.9" />
<text x="665.4" y="127.2" fill="#111" textLength="19.4" lengthAdjust="spacingAndGlyphs" font-size="7.8" >3,376</text>
<text x="665.4" y="154.8" fill="#111" textLength="19.4" lengthAdjust="spacingAndGlyphs" font-size="7.8" >1,804</text>
<rect x="515.3" y="163.3" width="146.2" height="43.2" fill="#d1e0e2" stroke="#8d9aa0" stroke-width="1" />
<g filter="url(#bl)">
<rect x="553.51" y="197.36" width="8.55" height="4.08" rx="1.63" fill="#2a6cc0" fill-opacity="0.46"/>
<rect x="565.72" y="173.3" width="8" height="24.1" fill="#2a6cc0" fill-opacity="0.14"/>
<rect x="563.97" y="167.5" width="11.5" height="7.6" rx="3.04" fill="#2a6cc0" fill-opacity="1"/>
<rect x="564.92" y="196.82" width="9.6" height="5.16" rx="2.06" fill="#2a6cc0" fill-opacity="0.71"/>
<rect x="565.42" y="202.4" width="8.6" height="3.2" rx="1.28" fill="#2a6cc0" fill-opacity="0.51"/>
<rect x="577.65" y="173.3" width="8" height="24.1" fill="#2a6cc0" fill-opacity="0.18"/>
<rect x="575.9" y="167.5" width="11.5" height="7.6" rx="3.04" fill="#2a6cc0" fill-opacity="1"/>
<rect x="576.59" y="196.55" width="10.12" height="5.7" rx="2.28" fill="#2a6cc0" fill-opacity="0.84"/>
<rect x="577.09" y="202.4" width="9.12" height="3.2" rx="1.28" fill="#2a6cc0" fill-opacity="0.64"/>
<rect x="588.23" y="167.96" width="10.7" height="6.68" rx="2.67" fill="#2a6cc0" fill-opacity="0.97"/>
<rect x="588.87" y="196.91" width="9.43" height="4.98" rx="1.99" fill="#2a6cc0" fill-opacity="0.67"/>
<rect x="589.37" y="202.4" width="8.43" height="3.2" rx="1.28" fill="#2a6cc0" fill-opacity="0.47"/>
<rect x="600.46" y="168.31" width="10.1" height="5.99" rx="2.4" fill="#2a6cc0" fill-opacity="0.84"/>
<rect x="600.88" y="197" width="9.25" height="4.8" rx="1.92" fill="#2a6cc0" fill-opacity="0.62"/>
<rect x="601.38" y="202.4" width="8.25" height="3.2" rx="1.28" fill="#2a6cc0" fill-opacity="0.28"/>
<rect x="612.29" y="168.19" width="10.3" height="6.22" rx="2.49" fill="#2a6cc0" fill-opacity="0.88"/>
<rect x="612.73" y="196.91" width="9.43" height="4.98" rx="1.99" fill="#2a6cc0" fill-opacity="0.67"/>
<rect x="613.23" y="202.4" width="8.43" height="3.2" rx="1.28" fill="#2a6cc0" fill-opacity="0.3"/>
<rect x="624.42" y="168.42" width="9.9" height="5.76" rx="2.3" fill="#2a6cc0" fill-opacity="0.79"/>
<rect x="624.75" y="197" width="9.25" height="4.8" rx="1.92" fill="#2a6cc0" fill-opacity="0.62"/>
<rect x="625.25" y="202.4" width="8.25" height="3.2" rx="1.28" fill="#2a6cc0" fill-opacity="0.28"/>
<rect x="636.85" y="169" width="8.9" height="4.61" rx="1.84" fill="#2a6cc0" fill-opacity="0.56"/>
<rect x="637.11" y="197.45" width="8.38" height="3.9" rx="1.56" fill="#2a6cc0" fill-opacity="0.41"/>
<rect x="637.61" y="202.4" width="7.38" height="3.2" rx="1.28" fill="#2a6cc0" fill-opacity="0.14"/>
<rect x="648.68" y="168.88" width="9.1" height="4.84" rx="1.94" fill="#2a6cc0" fill-opacity="0.61"/>
<rect x="648.96" y="197.36" width="8.55" height="4.08" rx="1.63" fill="#2a6cc0" fill-opacity="0.46"/>
<rect x="649.46" y="202.4" width="7.55" height="3.2" rx="1.28" fill="#2a6cc0" fill-opacity="0.17"/>
</g>
<text x="514" y="174.7" text-anchor="end" fill="#111" textLength="15.2" lengthAdjust="spacingAndGlyphs" font-size="9.4" >25S</text>
<text x="514" y="202.8" text-anchor="end" fill="#111" textLength="15.2" lengthAdjust="spacingAndGlyphs" font-size="9.4" >18S</text>
<line x1="661.5" y1="171.3" x2="665" y2="171.3" stroke="#333" stroke-width="0.9" />
<line x1="661.5" y1="199.4" x2="665" y2="199.4" stroke="#333" stroke-width="0.9" />
<text x="665.4" y="174.1" fill="#111" textLength="19.4" lengthAdjust="spacingAndGlyphs" font-size="7.8" >3,376</text>
<text x="665.4" y="202.2" fill="#111" textLength="19.4" lengthAdjust="spacingAndGlyphs" font-size="7.8" >1,804</text>
<text x="522" y="216.8" text-anchor="middle" fill="#111" font-size="9.4" >1</text>
<text x="533.93" y="216.8" text-anchor="middle" fill="#111" font-size="9.4" >2</text>
<text x="545.86" y="216.8" text-anchor="middle" fill="#111" font-size="9.4" >3</text>
<text x="557.79" y="216.8" text-anchor="middle" fill="#111" font-size="9.4" >4</text>
<text x="569.72" y="216.8" text-anchor="middle" fill="#111" font-size="9.4" >5</text>
<text x="581.65" y="216.8" text-anchor="middle" fill="#111" font-size="9.4" >6</text>
<text x="593.58" y="216.8" text-anchor="middle" fill="#111" font-size="9.4" >7</text>
<text x="605.51" y="216.8" text-anchor="middle" fill="#111" font-size="9.4" >8</text>
<text x="617.44" y="216.8" text-anchor="middle" fill="#111" font-size="9.4" >9</text>
<text x="629.37" y="216.8" text-anchor="middle" fill="#111" font-size="9.4" >10</text>
<text x="641.3" y="216.8" text-anchor="middle" fill="#111" font-size="9.4" >11</text>
<text x="653.23" y="216.8" text-anchor="middle" fill="#111" font-size="9.4" >12</text>
<rect x="571.9" y="219.9" width="35.8" height="8.6" fill="#fff" stroke="#555" stroke-width="0.8" />
<rect x="622.1" y="219.9" width="35.1" height="8.6" fill="#fff" stroke="#555" stroke-width="0.8" />
<text x="589.8" y="227.4" text-anchor="middle" fill="#111" font-size="9.4" >LP</text>
<text x="639.7" y="227.4" text-anchor="middle" fill="#111" font-size="9.4" >HP</text>
<line x1="485.1" y1="23" x2="485.1" y2="108.3" stroke="#888" stroke-width="1.1" />
<text transform="translate(481.9,65.85) rotate(-90)" text-anchor="middle" fill="#111" textLength="61" lengthAdjust="spacingAndGlyphs" font-size="10.3" >Inflorescence</text>
<text transform="translate(495.8,38.9) rotate(-90)" text-anchor="middle" fill="#111" textLength="16" lengthAdjust="spacingAndGlyphs" font-size="10.3" >WT</text>
<text transform="translate(495.8,84.5) rotate(-90)" text-anchor="middle" font-style="italic" fill="#111" textLength="28.6" lengthAdjust="spacingAndGlyphs" font-size="10.3" >hot3-2</text>
<line x1="484.8" y1="119.5" x2="484.8" y2="204.3" stroke="#888" stroke-width="1.1" />
<text transform="translate(482,163.7) rotate(-90)" text-anchor="middle" fill="#111" textLength="40.5" lengthAdjust="spacingAndGlyphs" font-size="10.3" >Seedling</text>
<text transform="translate(495.8,134.7) rotate(-90)" text-anchor="middle" fill="#111" textLength="16" lengthAdjust="spacingAndGlyphs" font-size="10.3" >WT</text>
<text transform="translate(495.8,181.2) rotate(-90)" text-anchor="middle" font-style="italic" fill="#111" textLength="28.6" lengthAdjust="spacingAndGlyphs" font-size="10.3" >hot3-2</text>
<text x="481" y="239.6" font-weight="bold" font-size="13" >i</text>
<rect x="515.2" y="235.8" width="148" height="49.1" fill="none" stroke="#8a8a8a" stroke-width="1.3" />
<line x1="512.8" y1="284.9" x2="515.2" y2="284.9" stroke="#666" stroke-width="1" />
<text x="513" y="288.5" text-anchor="end" fill="#111" textLength="13.3" lengthAdjust="spacingAndGlyphs" font-size="10" >0.0</text>
<line x1="512.8" y1="275.08" x2="515.2" y2="275.08" stroke="#666" stroke-width="1" />
<text x="513" y="278.68" text-anchor="end" fill="#111" textLength="13.3" lengthAdjust="spacingAndGlyphs" font-size="10" >0.1</text>
<line x1="512.8" y1="265.26" x2="515.2" y2="265.26" stroke="#666" stroke-width="1" />
<text x="513" y="268.86" text-anchor="end" fill="#111" textLength="13.3" lengthAdjust="spacingAndGlyphs" font-size="10" >0.2</text>
<line x1="512.8" y1="255.44" x2="515.2" y2="255.44" stroke="#666" stroke-width="1" />
<text x="513" y="259.04" text-anchor="end" fill="#111" textLength="13.3" lengthAdjust="spacingAndGlyphs" font-size="10" >0.3</text>
<line x1="512.8" y1="245.62" x2="515.2" y2="245.62" stroke="#666" stroke-width="1" />
<text x="513" y="249.22" text-anchor="end" fill="#111" textLength="13.3" lengthAdjust="spacingAndGlyphs" font-size="10" >0.4</text>
<line x1="512.8" y1="235.8" x2="515.2" y2="235.8" stroke="#666" stroke-width="1" />
<text x="513" y="239.4" text-anchor="end" fill="#111" textLength="13.3" lengthAdjust="spacingAndGlyphs" font-size="10" >0.5</text>
<line x1="521.5" y1="284.9" x2="521.5" y2="287.4" stroke="#666" stroke-width="1" />
<text x="521.5" y="296.1" text-anchor="middle" fill="#111" font-size="10" >1</text>
<line x1="533.84" y1="284.9" x2="533.84" y2="287.4" stroke="#666" stroke-width="1" />
<text x="533.84" y="296.1" text-anchor="middle" fill="#111" font-size="10" >2</text>
<line x1="546.18" y1="284.9" x2="546.18" y2="287.4" stroke="#666" stroke-width="1" />
<text x="546.18" y="296.1" text-anchor="middle" fill="#111" font-size="10" >3</text>
<line x1="558.52" y1="284.9" x2="558.52" y2="287.4" stroke="#666" stroke-width="1" />
<text x="558.52" y="296.1" text-anchor="middle" fill="#111" font-size="10" >4</text>
<line x1="570.86" y1="284.9" x2="570.86" y2="287.4" stroke="#666" stroke-width="1" />
<text x="570.86" y="296.1" text-anchor="middle" fill="#111" font-size="10" >5</text>
<line x1="583.2" y1="284.9" x2="583.2" y2="287.4" stroke="#666" stroke-width="1" />
<text x="583.2" y="296.1" text-anchor="middle" fill="#111" font-size="10" >6</text>
<line x1="595.54" y1="284.9" x2="595.54" y2="287.4" stroke="#666" stroke-width="1" />
<text x="595.54" y="296.1" text-anchor="middle" fill="#111" font-size="10" >7</text>
<line x1="607.88" y1="284.9" x2="607.88" y2="287.4" stroke="#666" stroke-width="1" />
<text x="607.88" y="296.1" text-anchor="middle" fill="#111" font-size="10" >8</text>
<line x1="620.22" y1="284.9" x2="620.22" y2="287.4" stroke="#666" stroke-width="1" />
<text x="620.22" y="296.1" text-anchor="middle" fill="#111" font-size="10" >9</text>
<line x1="632.56" y1="284.9" x2="632.56" y2="287.4" stroke="#666" stroke-width="1" />
<text x="632.56" y="296.1" text-anchor="middle" fill="#111" font-size="10" >10</text>
<line x1="644.9" y1="284.9" x2="644.9" y2="287.4" stroke="#666" stroke-width="1" />
<text x="644.9" y="296.1" text-anchor="middle" fill="#111" font-size="10" >11</text>
<line x1="657.24" y1="284.9" x2="657.24" y2="287.4" stroke="#666" stroke-width="1" />
<text x="657.24" y="296.1" text-anchor="middle" fill="#111" font-size="10" >12</text>
<path d="M521.5 284.9 L533.84 284.9 L546.18 283 L558.52 283 L570.86 281.2 L583.2 273.7 L595.54 270.7 L607.88 258.2 L620.22 268.6 L632.56 270.3 L644.9 279.9 L657.24 279.9" fill="none" stroke="#45b0dc" stroke-width="1.1" />
<circle cx="521.5" cy="284.9" r="1.9" fill="#45b0dc"/>
<circle cx="533.84" cy="284.9" r="1.9" fill="#45b0dc"/>
<circle cx="546.18" cy="282.5" r="1.9" fill="#45b0dc"/>
<circle cx="558.52" cy="282.5" r="1.9" fill="#45b0dc"/>
<circle cx="570.86" cy="281.2" r="1.9" fill="#45b0dc"/>
<circle cx="583.2" cy="273.2" r="1.9" fill="#45b0dc"/>
<circle cx="583.2" cy="274.5" r="1.9" fill="#45b0dc"/>
<circle cx="595.54" cy="270.7" r="1.9" fill="#45b0dc"/>
<circle cx="607.88" cy="254.7" r="1.9" fill="#45b0dc"/>
<circle cx="607.88" cy="261.6" r="1.9" fill="#45b0dc"/>
<circle cx="620.22" cy="265.3" r="1.9" fill="#45b0dc"/>
<circle cx="620.22" cy="272.8" r="1.9" fill="#45b0dc"/>
<circle cx="632.56" cy="267" r="1.9" fill="#45b0dc"/>
<circle cx="632.56" cy="274.5" r="1.9" fill="#45b0dc"/>
<circle cx="644.9" cy="280.4" r="1.9" fill="#45b0dc"/>
<circle cx="657.24" cy="281.7" r="1.9" fill="#45b0dc"/>
<path d="M521.5 284.9 L533.84 284.9 L546.18 284 L558.52 283.6 L570.86 283 L583.2 282.6 L595.54 280.4 L607.88 277 L620.22 261.1 L632.56 250.2 L644.9 274.2 L657.24 277.4" fill="none" stroke="#f7861f" stroke-width="1.1" />
<circle cx="521.5" cy="284.9" r="1.9" fill="#f7861f"/>
<circle cx="533.84" cy="284.9" r="1.9" fill="#f7861f"/>
<circle cx="546.18" cy="283.6" r="1.9" fill="#f7861f"/>
<circle cx="558.52" cy="283.3" r="1.9" fill="#f7861f"/>
<circle cx="570.86" cy="283" r="1.9" fill="#f7861f"/>
<circle cx="583.2" cy="282.9" r="1.9" fill="#f7861f"/>
<circle cx="583.2" cy="283.5" r="1.9" fill="#f7861f"/>
<circle cx="595.54" cy="279.6" r="1.9" fill="#f7861f"/>
<circle cx="595.54" cy="281.2" r="1.9" fill="#f7861f"/>
<circle cx="607.88" cy="275" r="1.9" fill="#f7861f"/>
<circle cx="607.88" cy="277.9" r="1.9" fill="#f7861f"/>
<circle cx="620.22" cy="257.4" r="1.9" fill="#f7861f"/>
<circle cx="620.22" cy="263.6" r="1.9" fill="#f7861f"/>
<circle cx="632.56" cy="246" r="1.9" fill="#f7861f"/>
<circle cx="632.56" cy="253.9" r="1.9" fill="#f7861f"/>
<circle cx="644.9" cy="270.7" r="1.9" fill="#f7861f"/>
<circle cx="644.9" cy="277" r="1.9" fill="#f7861f"/>
<circle cx="657.24" cy="275.4" r="1.9" fill="#f7861f"/>
<circle cx="657.24" cy="279.6" r="1.9" fill="#f7861f"/>
<line x1="520.9" y1="241.3" x2="532.3" y2="241.3" stroke="#f7861f" stroke-width="1.1" />
<circle cx="526.6" cy="241.3" r="1.9" fill="#f7861f"/>
<text x="534.2" y="244.8" fill="#111" textLength="13.2" lengthAdjust="spacingAndGlyphs" font-size="9.8" >WT</text>
<line x1="520.9" y1="249.5" x2="532.3" y2="249.5" stroke="#45b0dc" stroke-width="1.1" />
<circle cx="526.6" cy="249.5" r="1.9" fill="#45b0dc"/>
<text x="534" y="253" font-style="italic" fill="#111" textLength="26" lengthAdjust="spacingAndGlyphs" font-size="9.8" >hot3-2</text>
<text transform="translate(672.4,261.9) rotate(-90)" text-anchor="middle" fill="#111" textLength="53.8" lengthAdjust="spacingAndGlyphs" font-size="9.6" >Inflorescence</text>
<rect x="515.2" y="299.8" width="148" height="49" fill="none" stroke="#8a8a8a" stroke-width="1.3" />
<line x1="512.8" y1="348.8" x2="515.2" y2="348.8" stroke="#666" stroke-width="1" />
<text x="513" y="352.4" text-anchor="end" fill="#111" textLength="13.3" lengthAdjust="spacingAndGlyphs" font-size="10" >0.0</text>
<line x1="512.8" y1="332.47" x2="515.2" y2="332.47" stroke="#666" stroke-width="1" />
<text x="513" y="336.07" text-anchor="end" fill="#111" textLength="13.3" lengthAdjust="spacingAndGlyphs" font-size="10" >0.1</text>
<line x1="512.8" y1="316.13" x2="515.2" y2="316.13" stroke="#666" stroke-width="1" />
<text x="513" y="319.73" text-anchor="end" fill="#111" textLength="13.3" lengthAdjust="spacingAndGlyphs" font-size="10" >0.2</text>
<line x1="512.8" y1="299.8" x2="515.2" y2="299.8" stroke="#666" stroke-width="1" />
<text x="513" y="303.4" text-anchor="end" fill="#111" textLength="13.3" lengthAdjust="spacingAndGlyphs" font-size="10" >0.3</text>
<line x1="521.5" y1="348.8" x2="521.5" y2="351.3" stroke="#666" stroke-width="1" />
<text x="521.5" y="360" text-anchor="middle" fill="#111" font-size="10" >1</text>
<line x1="533.84" y1="348.8" x2="533.84" y2="351.3" stroke="#666" stroke-width="1" />
<text x="533.84" y="360" text-anchor="middle" fill="#111" font-size="10" >2</text>
<line x1="546.18" y1="348.8" x2="546.18" y2="351.3" stroke="#666" stroke-width="1" />
<text x="546.18" y="360" text-anchor="middle" fill="#111" font-size="10" >3</text>
<line x1="558.52" y1="348.8" x2="558.52" y2="351.3" stroke="#666" stroke-width="1" />
<text x="558.52" y="360" text-anchor="middle" fill="#111" font-size="10" >4</text>
<line x1="570.86" y1="348.8" x2="570.86" y2="351.3" stroke="#666" stroke-width="1" />
<text x="570.86" y="360" text-anchor="middle" fill="#111" font-size="10" >5</text>
<line x1="583.2" y1="348.8" x2="583.2" y2="351.3" stroke="#666" stroke-width="1" />
<text x="583.2" y="360" text-anchor="middle" fill="#111" font-size="10" >6</text>
<line x1="595.54" y1="348.8" x2="595.54" y2="351.3" stroke="#666" stroke-width="1" />
<text x="595.54" y="360" text-anchor="middle" fill="#111" font-size="10" >7</text>
<line x1="607.88" y1="348.8" x2="607.88" y2="351.3" stroke="#666" stroke-width="1" />
<text x="607.88" y="360" text-anchor="middle" fill="#111" font-size="10" >8</text>
<line x1="620.22" y1="348.8" x2="620.22" y2="351.3" stroke="#666" stroke-width="1" />
<text x="620.22" y="360" text-anchor="middle" fill="#111" font-size="10" >9</text>
<line x1="632.56" y1="348.8" x2="632.56" y2="351.3" stroke="#666" stroke-width="1" />
<text x="632.56" y="360" text-anchor="middle" fill="#111" font-size="10" >10</text>
<line x1="644.9" y1="348.8" x2="644.9" y2="351.3" stroke="#666" stroke-width="1" />
<text x="644.9" y="360" text-anchor="middle" fill="#111" font-size="10" >11</text>
<line x1="657.24" y1="348.8" x2="657.24" y2="351.3" stroke="#666" stroke-width="1" />
<text x="657.24" y="360" text-anchor="middle" fill="#111" font-size="10" >12</text>
<path d="M521.5 348.8 L533.84 345.4 L546.18 337.4 L558.52 342 L570.86 344.4 L583.2 335 L595.54 321.9 L607.88 312.1 L620.22 328.1 L632.56 329.4 L644.9 339.1 L657.24 340" fill="none" stroke="#45b0dc" stroke-width="1.1" />
<circle cx="521.5" cy="348.8" r="1.9" fill="#45b0dc"/>
<circle cx="533.84" cy="345.4" r="1.9" fill="#45b0dc"/>
<circle cx="546.18" cy="334.3" r="1.9" fill="#45b0dc"/>
<circle cx="546.18" cy="339.7" r="1.9" fill="#45b0dc"/>
<circle cx="558.52" cy="342.5" r="1.9" fill="#45b0dc"/>
<circle cx="570.86" cy="344.4" r="1.9" fill="#45b0dc"/>
<circle cx="583.2" cy="331.1" r="1.9" fill="#45b0dc"/>
<circle cx="583.2" cy="339" r="1.9" fill="#45b0dc"/>
<circle cx="595.54" cy="316.5" r="1.9" fill="#45b0dc"/>
<circle cx="595.54" cy="327.4" r="1.9" fill="#45b0dc"/>
<circle cx="607.88" cy="307.1" r="1.9" fill="#45b0dc"/>
<circle cx="607.88" cy="317.7" r="1.9" fill="#45b0dc"/>
<circle cx="620.22" cy="325.2" r="1.9" fill="#45b0dc"/>
<circle cx="620.22" cy="331.1" r="1.9" fill="#45b0dc"/>
<circle cx="632.56" cy="322.7" r="1.9" fill="#45b0dc"/>
<circle cx="632.56" cy="335.3" r="1.9" fill="#45b0dc"/>
<circle cx="644.9" cy="338.3" r="1.9" fill="#45b0dc"/>
<circle cx="644.9" cy="341.2" r="1.9" fill="#45b0dc"/>
<circle cx="657.24" cy="338.6" r="1.9" fill="#45b0dc"/>
<circle cx="657.24" cy="341.5" r="1.9" fill="#45b0dc"/>
<path d="M521.5 348.8 L533.84 342.2 L546.18 333 L558.52 338.6 L570.86 341.2 L583.2 340.6 L595.54 338.3 L607.88 328.1 L620.22 324.4 L632.56 320.2 L644.9 333.3 L657.24 333.6" fill="none" stroke="#f7861f" stroke-width="1.1" />
<circle cx="521.5" cy="348.8" r="1.9" fill="#f7861f"/>
<circle cx="533.84" cy="341.7" r="1.9" fill="#f7861f"/>
<circle cx="533.84" cy="343" r="1.9" fill="#f7861f"/>
<circle cx="546.18" cy="328.6" r="1.9" fill="#f7861f"/>
<circle cx="546.18" cy="337" r="1.9" fill="#f7861f"/>
<circle cx="558.52" cy="338" r="1.9" fill="#f7861f"/>
<circle cx="558.52" cy="339.7" r="1.9" fill="#f7861f"/>
<circle cx="570.86" cy="340.9" r="1.9" fill="#f7861f"/>
<circle cx="570.86" cy="342.2" r="1.9" fill="#f7861f"/>
<circle cx="583.2" cy="341.2" r="1.9" fill="#f7861f"/>
<circle cx="583.2" cy="343.7" r="1.9" fill="#f7861f"/>
<circle cx="595.54" cy="337.8" r="1.9" fill="#f7861f"/>
<circle cx="595.54" cy="339.5" r="1.9" fill="#f7861f"/>
<circle cx="607.88" cy="324.4" r="1.9" fill="#f7861f"/>
<circle cx="607.88" cy="331.9" r="1.9" fill="#f7861f"/>
<circle cx="620.22" cy="322.4" r="1.9" fill="#f7861f"/>
<circle cx="620.22" cy="325.7" r="1.9" fill="#f7861f"/>
<circle cx="632.56" cy="318.5" r="1.9" fill="#f7861f"/>
<circle cx="632.56" cy="321" r="1.9" fill="#f7861f"/>
<circle cx="644.9" cy="332.8" r="1.9" fill="#f7861f"/>
<circle cx="644.9" cy="334.5" r="1.9" fill="#f7861f"/>
<circle cx="657.24" cy="333.3" r="1.9" fill="#f7861f"/>
<circle cx="657.24" cy="334.6" r="1.9" fill="#f7861f"/>
<line x1="520.9" y1="305.8" x2="532.3" y2="305.8" stroke="#f7861f" stroke-width="1.1" />
<circle cx="526.6" cy="305.8" r="1.9" fill="#f7861f"/>
<text x="534.2" y="309.3" fill="#111" textLength="13.2" lengthAdjust="spacingAndGlyphs" font-size="9.8" >WT</text>
<line x1="520.9" y1="314.3" x2="532.3" y2="314.3" stroke="#45b0dc" stroke-width="1.1" />
<circle cx="526.6" cy="314.3" r="1.9" fill="#45b0dc"/>
<text x="534" y="317.8" font-style="italic" fill="#111" textLength="26" lengthAdjust="spacingAndGlyphs" font-size="9.8" >hot3-2</text>
<text transform="translate(670.6,322.7) rotate(-90)" text-anchor="middle" fill="#111" textLength="34.6" lengthAdjust="spacingAndGlyphs" font-size="9.6" >Seedling</text>
<text transform="translate(496.3,288.6) rotate(-90)" text-anchor="middle" font-weight="bold" textLength="108.7" lengthAdjust="spacingAndGlyphs" font-size="10.5" >Proportion of <tspan font-style="italic">LHCB5</tspan></text>
<text x="536" y="377.5" font-weight="bold" font-size="16.5" >j</text>
<line x1="576.5" y1="426" x2="678.5" y2="426" stroke="#cfcfcf" stroke-width="0.9" stroke-dasharray="3,2"/>
<rect x="580.2" y="381.42" width="8.7" height="24.38" fill="#ff7a00" />
<rect x="580.2" y="412.9" width="8.7" height="38.7" fill="#ff7a00" />
<rect x="589.9" y="382.57" width="8.1" height="23.23" fill="#ff7a00" />
<rect x="589.9" y="412.9" width="8.1" height="38.7" fill="#ff7a00" />
<rect x="598.9" y="383.71" width="8.3" height="22.09" fill="#ff7a00" />
<rect x="598.9" y="412.9" width="8.3" height="38.7" fill="#ff7a00" />
<rect x="608.1" y="438.8" width="8.6" height="12.8" fill="#ff7a00" />
<rect x="617.6" y="446.48" width="8.6" height="5.12" fill="#ff7a00" />
<rect x="628" y="402.44" width="9" height="3.36" fill="#3ea7d8" />
<rect x="628" y="412.9" width="9" height="38.7" fill="#3ea7d8" />
<rect x="637.8" y="403.59" width="8.4" height="2.21" fill="#3ea7d8" />
<rect x="637.8" y="412.9" width="8.4" height="38.7" fill="#3ea7d8" />
<rect x="647" y="394.03" width="8.6" height="11.77" fill="#3ea7d8" />
<rect x="647" y="412.9" width="8.6" height="38.7" fill="#3ea7d8" />
<rect x="656.3" y="426" width="8.8" height="25.6" fill="#3ea7d8" />
<rect x="665.8" y="448.53" width="8.3" height="3.07" fill="#3ea7d8" />
<circle cx="582" cy="382.5" r="1.9" fill="#000"/>
<circle cx="587.1" cy="379.1" r="1.9" fill="#000"/>
<circle cx="593.8" cy="374.6" r="1.9" fill="#000"/>
<circle cx="593.8" cy="390.2" r="1.9" fill="#000"/>
<circle cx="603.1" cy="373.5" r="1.9" fill="#000"/>
<circle cx="603.1" cy="393.3" r="1.9" fill="#000"/>
<circle cx="612.6" cy="436.7" r="1.9" fill="#000"/>
<circle cx="612.6" cy="440.3" r="1.9" fill="#000"/>
<circle cx="619.8" cy="446.4" r="1.9" fill="#000"/>
<circle cx="623.9" cy="446.4" r="1.9" fill="#000"/>
<circle cx="630.2" cy="402.6" r="1.9" fill="#000"/>
<circle cx="635.2" cy="400.7" r="1.9" fill="#000"/>
<circle cx="639.5" cy="403.7" r="1.9" fill="#000"/>
<circle cx="644.5" cy="402.8" r="1.9" fill="#000"/>
<circle cx="648.6" cy="395.4" r="1.9" fill="#000"/>
<circle cx="653.7" cy="395.1" r="1.9" fill="#000"/>
<circle cx="658.5" cy="426.5" r="1.9" fill="#000"/>
<circle cx="663" cy="426.5" r="1.9" fill="#000"/>
<circle cx="667.4" cy="448.7" r="1.9" fill="#000"/>
<circle cx="672.1" cy="447.5" r="1.9" fill="#000"/>
<line x1="576.5" y1="367.3" x2="678.5" y2="367.3" stroke="#8a8a8a" stroke-width="1.2" />
<line x1="678.5" y1="367.3" x2="678.5" y2="451.6" stroke="#8a8a8a" stroke-width="1.2" />
<line x1="576" y1="451.6" x2="679" y2="451.6" stroke="#8a8a8a" stroke-width="1.2" />
<line x1="576.5" y1="367.3" x2="576.5" y2="405.5" stroke="#8a8a8a" stroke-width="1.2" />
<line x1="576.5" y1="413.5" x2="576.5" y2="451.6" stroke="#8a8a8a" stroke-width="1.2" />
<line x1="573.8" y1="408.5" x2="579.2" y2="403.2" stroke="#555" stroke-width="0.9" />
<line x1="573.8" y1="416.2" x2="579.2" y2="410.9" stroke="#555" stroke-width="0.9" />
<line x1="573.8" y1="371.1" x2="576.5" y2="371.1" stroke="#777" stroke-width="1" />
<text x="573" y="374.6" text-anchor="end" fill="#111" font-size="9.8" >11</text>
<line x1="573.8" y1="382.57" x2="576.5" y2="382.57" stroke="#777" stroke-width="1" />
<text x="573" y="386.07" text-anchor="end" fill="#111" font-size="9.8" >8</text>
<line x1="573.8" y1="394.03" x2="576.5" y2="394.03" stroke="#777" stroke-width="1" />
<text x="573" y="397.53" text-anchor="end" fill="#111" font-size="9.8" >5</text>
<line x1="573.8" y1="405.5" x2="576.5" y2="405.5" stroke="#777" stroke-width="1" />
<text x="573" y="409" text-anchor="end" fill="#111" font-size="9.8" >2</text>
<line x1="573.8" y1="413.2" x2="576.5" y2="413.2" stroke="#777" stroke-width="1" />
<text x="573" y="416.7" text-anchor="end" fill="#111" font-size="9.8" >1.5</text>
<line x1="573.8" y1="426" x2="576.5" y2="426" stroke="#777" stroke-width="1" />
<text x="573" y="429.5" text-anchor="end" fill="#111" font-size="9.8" >1</text>
<line x1="573.8" y1="438.8" x2="576.5" y2="438.8" stroke="#777" stroke-width="1" />
<text x="573" y="442.3" text-anchor="end" fill="#111" font-size="9.8" >0.5</text>
<line x1="573.8" y1="451.6" x2="576.5" y2="451.6" stroke="#777" stroke-width="1" />
<text x="573" y="455.1" text-anchor="end" fill="#111" font-size="9.8" >0.0</text>
<rect x="654.2" y="371.3" width="8.7" height="2.6" fill="#ff7a00" />
<text x="664.7" y="376.6" fill="#111" font-size="10" >IF</text>
<rect x="654.2" y="380.2" width="8.7" height="2.6" fill="#3ea7d8" />
<text x="664.7" y="385.6" fill="#111" font-size="10" >S</text>
<text transform="translate(553.7,411.9) rotate(-90)" text-anchor="middle" font-weight="bold" textLength="87" lengthAdjust="spacingAndGlyphs" font-size="10.5" >LP/HP (<tspan font-style="italic">hot3-2</tspan>/WT)</text>
<text transform="translate(587.3,454.2) rotate(-90)" text-anchor="end" font-style="italic" fill="#111" textLength="30.5" lengthAdjust="spacingAndGlyphs" font-size="9.6" >LHCB5</text>
<text transform="translate(596.7,454.2) rotate(-90)" text-anchor="end" font-style="italic" fill="#111" textLength="30.5" lengthAdjust="spacingAndGlyphs" font-size="9.6" >LHCA1</text>
<text transform="translate(605.8,454.2) rotate(-90)" text-anchor="end" font-style="italic" fill="#111" textLength="30" lengthAdjust="spacingAndGlyphs" font-size="9.6" >PsaD2</text>
<text transform="translate(615.1,454.2) rotate(-90)" text-anchor="end" font-style="italic" fill="#111" textLength="49.8" lengthAdjust="spacingAndGlyphs" font-size="9.6" >AT1G25580</text>
<text transform="translate(624.6,454.2) rotate(-90)" text-anchor="end" font-style="italic" fill="#111" textLength="49.8" lengthAdjust="spacingAndGlyphs" font-size="9.6" >AT1G21160</text>
<text transform="translate(635.2,454.2) rotate(-90)" text-anchor="end" font-style="italic" fill="#111" textLength="30.5" lengthAdjust="spacingAndGlyphs" font-size="9.6" >LHCB5</text>
<text transform="translate(644.7,454.2) rotate(-90)" text-anchor="end" font-style="italic" fill="#111" textLength="30.5" lengthAdjust="spacingAndGlyphs" font-size="9.6" >LHCA1</text>
<text transform="translate(654,454.2) rotate(-90)" text-anchor="end" font-style="italic" fill="#111" textLength="30" lengthAdjust="spacingAndGlyphs" font-size="9.6" >PsaD2</text>
<text transform="translate(663.4,454.2) rotate(-90)" text-anchor="end" font-style="italic" fill="#111" textLength="49.8" lengthAdjust="spacingAndGlyphs" font-size="9.6" >AT1G25580</text>
<text transform="translate(672.7,454.2) rotate(-90)" text-anchor="end" font-style="italic" fill="#111" textLength="49.8" lengthAdjust="spacingAndGlyphs" font-size="9.6" >AT1G21160</text>
<text x="389" y="389.7" font-weight="bold" font-size="16.5" >k</text>
<text x="423.3" y="386.1" text-anchor="middle" fill="#111" textLength="22" lengthAdjust="spacingAndGlyphs" font-size="9.8" >Rep1</text>
<text x="452.8" y="386.1" text-anchor="middle" fill="#111" textLength="22" lengthAdjust="spacingAndGlyphs" font-size="9.8" >Rep2</text>
<text x="482" y="386.1" text-anchor="middle" fill="#111" textLength="22" lengthAdjust="spacingAndGlyphs" font-size="9.8" >Rep3</text>
<text transform="translate(418.1,417.2) rotate(-90)" fill="#111" textLength="12.8" lengthAdjust="spacingAndGlyphs" font-size="10.2" >WT</text>
<text transform="translate(433.7,417.2) rotate(-90)" font-style="italic" fill="#111" textLength="26.6" lengthAdjust="spacingAndGlyphs" font-size="10.2" >hot3-2</text>
<text transform="translate(446.5,417.2) rotate(-90)" fill="#111" textLength="12.8" lengthAdjust="spacingAndGlyphs" font-size="10.2" >WT</text>
<text transform="translate(462.5,417.2) rotate(-90)" font-style="italic" fill="#111" textLength="26.6" lengthAdjust="spacingAndGlyphs" font-size="10.2" >hot3-2</text>
<text transform="translate(477.7,417.2) rotate(-90)" fill="#111" textLength="12.8" lengthAdjust="spacingAndGlyphs" font-size="10.2" >WT</text>
<text transform="translate(492.8,417.2) rotate(-90)" font-style="italic" fill="#111" textLength="26.6" lengthAdjust="spacingAndGlyphs" font-size="10.2" >hot3-2</text>
<text x="389" y="414.1" fill="#111" textLength="16.1" lengthAdjust="spacingAndGlyphs" font-size="9.8" >kDa</text>
<rect x="406.9" y="418.9" width="92.5" height="17.7" fill="#eeeeee" stroke="#111" stroke-width="1" />
<g filter="url(#bl)">
<rect x="409" y="426.2" width="14.5" height="5.6" rx="2" fill="#000" fill-opacity="0.72"/>
<rect x="425.25" y="426.7" width="12.5" height="4.6" rx="2" fill="#000" fill-opacity="0.62"/>
<rect x="438.8" y="426.2" width="14.5" height="5.6" rx="2" fill="#000" fill-opacity="0.76"/>
<rect x="454.45" y="426.7" width="12.5" height="4.6" rx="2" fill="#000" fill-opacity="0.66"/>
<rect x="468.4" y="426.1" width="15" height="5.8" rx="2" fill="#000" fill-opacity="0.85"/>
<rect x="485" y="426.7" width="12.5" height="4.6" rx="2" fill="#000" fill-opacity="0.64"/>
</g>
<rect x="406.9" y="448.6" width="92.5" height="17.1" fill="#f6f6f6" stroke="#111" stroke-width="1" />
<g filter="url(#bl)">
<rect x="410" y="454.3" width="12.5" height="5.2" rx="2" fill="#000" fill-opacity="1"/>
<rect x="426.25" y="454.9" width="10.5" height="4" rx="2" fill="#000" fill-opacity="0.5"/>
<rect x="439.55" y="454.3" width="13" height="5.2" rx="2" fill="#000" fill-opacity="1"/>
<rect x="455.45" y="454.9" width="10.5" height="4" rx="2" fill="#000" fill-opacity="0.42"/>
<rect x="469.4" y="454.1" width="13" height="5.6" rx="2" fill="#000" fill-opacity="1"/>
<rect x="486.5" y="454.9" width="9.5" height="4" rx="2" fill="#000" fill-opacity="0.42"/>
</g>
<rect x="406.9" y="477" width="92.5" height="17.1" fill="#f7f7f7" stroke="#111" stroke-width="1" />
<g filter="url(#bl)">
<rect x="410.25" y="485.7" width="12" height="2.6" rx="2" fill="#000" fill-opacity="0.2"/>
<rect x="425.5" y="485.4" width="12" height="3.2" rx="2" fill="#000" fill-opacity="0.6"/>
<rect x="440.05" y="485.6" width="12" height="2.8" rx="2" fill="#000" fill-opacity="0.28"/>
<rect x="454.7" y="485.4" width="12" height="3.2" rx="2" fill="#000" fill-opacity="0.62"/>
<rect x="469.9" y="485.6" width="12" height="2.8" rx="2" fill="#000" fill-opacity="0.38"/>
<rect x="485.75" y="485.3" width="11" height="3.4" rx="2" fill="#000" fill-opacity="0.58"/>
</g>
<line x1="403.6" y1="421.1" x2="406.9" y2="421.1" stroke="#111" stroke-width="0.9" />
<line x1="403.6" y1="435.4" x2="406.9" y2="435.4" stroke="#111" stroke-width="0.9" />
<text x="403.4" y="425.3" text-anchor="end" fill="#111" font-size="9.8" >25</text>
<text x="403.4" y="438.8" text-anchor="end" fill="#111" font-size="9.8" >15</text>
<line x1="403.6" y1="451.2" x2="406.9" y2="451.2" stroke="#111" stroke-width="0.9" />
<line x1="403.6" y1="464.5" x2="406.9" y2="464.5" stroke="#111" stroke-width="0.9" />
<text x="403.4" y="455.4" text-anchor="end" fill="#111" font-size="9.8" >25</text>
<text x="403.4" y="467.9" text-anchor="end" fill="#111" font-size="9.8" >15</text>
<line x1="403.6" y1="479.4" x2="406.9" y2="479.4" stroke="#111" stroke-width="0.9" />
<line x1="403.6" y1="493" x2="406.9" y2="493" stroke="#111" stroke-width="0.9" />
<text x="403.4" y="483.6" text-anchor="end" fill="#111" font-size="9.8" >55</text>
<text x="403.4" y="496.4" text-anchor="end" fill="#111" font-size="9.8" >35</text>
<text x="501.3" y="431.3" fill="#111" textLength="29.5" lengthAdjust="spacingAndGlyphs" font-size="9.8" >LHCA1</text>
<text x="501.5" y="460.2" fill="#111" textLength="22.5" lengthAdjust="spacingAndGlyphs" font-size="9.8" >PsaD</text>
<text x="501.5" y="489.7" fill="#111" textLength="24.7" lengthAdjust="spacingAndGlyphs" font-size="9.8" >RPN6</text>
<text x="414.6" y="446" text-anchor="middle" fill="#111" font-size="8.8" >1.0</text>
<text x="429.9" y="446" text-anchor="middle" fill="#111" font-size="8.8" >0.2</text>
<text x="445.2" y="446" text-anchor="middle" fill="#111" font-size="8.8" >1.0</text>
<text x="460.5" y="446" text-anchor="middle" fill="#111" font-size="8.8" >0.3</text>
<text x="475.9" y="446" text-anchor="middle" fill="#111" font-size="8.8" >1.0</text>
<text x="491.9" y="446" text-anchor="middle" fill="#111" font-size="8.8" >0.2</text>
<text x="414.6" y="475.1" text-anchor="middle" fill="#111" font-size="8.8" >1.0</text>
<text x="429.9" y="475.1" text-anchor="middle" fill="#111" font-size="8.8" >0.2</text>
<text x="445.2" y="475.1" text-anchor="middle" fill="#111" font-size="8.8" >1.0</text>
<text x="460.5" y="475.1" text-anchor="middle" fill="#111" font-size="8.8" >0.2</text>
<text x="475.9" y="475.1" text-anchor="middle" fill="#111" font-size="8.8" >1.0</text>
<text x="491.9" y="475.1" text-anchor="middle" fill="#111" font-size="8.8" >0.2</text>
<text x="219.6" y="168.2" font-weight="bold" font-size="16.5" >g</text>
<line x1="258.6" y1="183.5" x2="362" y2="183.5" stroke="#dcdcdc" stroke-width="0.9" />
<path d="M277.6 183.2H281.2V179.2H277.6Z M281.2 183.2H283.9V175.7H281.2Z M289.8 183.2H292.8V180.5H289.8Z M292.8 183.2H295.1V182.2H292.8Z M301 183.2H304.6V181.2H301Z M309.4 183.2H311V181.7H309.4Z M315.3 183.2H316.5V181.2H315.3Z M316.5 183.2H318.3V178.7H316.5Z M322.8 183.2H326.7V180.2H322.8Z M331.3 183.2H333.5V182.2H331.3Z M337.9 183.2H339.5V181.9H337.9Z M339.5 183.2H343.3V181H339.5Z M346.3 183.2H349.5V180.7H346.3Z" fill="#c9650f"/>
<line x1="256.4" y1="173.4" x2="256.4" y2="183.2" stroke="#dd8838" stroke-width="1" />
<line x1="255.9" y1="173.4" x2="259" y2="173.4" stroke="#dd8838" stroke-width="1" />
<line x1="255.9" y1="183.2" x2="259" y2="183.2" stroke="#dd8838" stroke-width="1" />
<text x="261.7" y="177.2" fill="#d07020" textLength="11.3" lengthAdjust="spacingAndGlyphs" font-size="7" >600</text>
<text x="261.9" y="185" fill="#d07020" font-size="7" >0</text>
<line x1="258.6" y1="195.7" x2="362" y2="195.7" stroke="#dcdcdc" stroke-width="0.9" />
<path d="M277.6 195.4H281.2V191.4H277.6Z M281.2 195.4H283.9V187.9H281.2Z M289.8 195.4H292.8V192.7H289.8Z M292.8 195.4H295.1V194.4H292.8Z M301 195.4H304.6V193.4H301Z M309.4 195.4H311V193.9H309.4Z M315.3 195.4H316.5V193.4H315.3Z M316.5 195.4H318.3V190.9H316.5Z M322.8 195.4H326.7V192.4H322.8Z M331.3 195.4H333.5V194.4H331.3Z M337.9 195.4H339.5V194.1H337.9Z M339.5 195.4H343.3V193.2H339.5Z M346.3 195.4H349.5V192.9H346.3Z" fill="#c9650f"/>
<line x1="256.4" y1="185.6" x2="256.4" y2="195.4" stroke="#dd8838" stroke-width="1" />
<line x1="255.9" y1="185.6" x2="259" y2="185.6" stroke="#dd8838" stroke-width="1" />
<line x1="255.9" y1="195.4" x2="259" y2="195.4" stroke="#dd8838" stroke-width="1" />
<line x1="258.6" y1="207.9" x2="362" y2="207.9" stroke="#dcdcdc" stroke-width="0.9" />
<path d="M277.6 207.6H281.2V203.6H277.6Z M281.2 207.6H283.9V200.1H281.2Z M289.8 207.6H292.8V204.9H289.8Z M292.8 207.6H295.1V206.6H292.8Z M301 207.6H304.6V205.6H301Z M309.4 207.6H311V206.1H309.4Z M315.3 207.6H316.5V205.6H315.3Z M316.5 207.6H318.3V203.1H316.5Z M322.8 207.6H326.7V204.6H322.8Z M331.3 207.6H333.5V206.6H331.3Z M337.9 207.6H339.5V206.3H337.9Z M339.5 207.6H343.3V205.4H339.5Z M346.3 207.6H349.5V205.1H346.3Z" fill="#c9650f"/>
<line x1="256.4" y1="197.8" x2="256.4" y2="207.6" stroke="#dd8838" stroke-width="1" />
<line x1="255.9" y1="197.8" x2="259" y2="197.8" stroke="#dd8838" stroke-width="1" />
<line x1="255.9" y1="207.6" x2="259" y2="207.6" stroke="#dd8838" stroke-width="1" />
<line x1="258.6" y1="220.1" x2="362" y2="220.1" stroke="#dcdcdc" stroke-width="0.9" />
<path d="M271 219.8H274.6V218.8H271Z M277.6 219.8H281.2V216.3H277.6Z M281.2 219.8H283.9V210.8H281.2Z M289.8 219.8H292.8V216.8H289.8Z M292.8 219.8H295.1V218.6H292.8Z M301 219.8H304.6V217.8H301Z M309.4 219.8H311V218.6H309.4Z M315.3 219.8H316.5V218.3H315.3Z M316.5 219.8H318.3V215.3H316.5Z M322.8 219.8H326.7V216.8H322.8Z M331.3 219.8H333.5V218.8H331.3Z M337.9 219.8H343.3V218H337.9Z M346.3 219.8H349.5V217.3H346.3Z" fill="#5b8ff5"/>
<line x1="256.4" y1="210" x2="256.4" y2="219.8" stroke="#6fa0f7" stroke-width="1" />
<line x1="255.9" y1="210" x2="259" y2="210" stroke="#6fa0f7" stroke-width="1" />
<line x1="255.9" y1="219.8" x2="259" y2="219.8" stroke="#6fa0f7" stroke-width="1" />
<text x="261.7" y="213.8" fill="#3db5ee" textLength="11.3" lengthAdjust="spacingAndGlyphs" font-size="7" >600</text>
<text x="261.9" y="221.6" fill="#3db5ee" font-size="7" >0</text>
<line x1="258.6" y1="232.3" x2="362" y2="232.3" stroke="#dcdcdc" stroke-width="0.9" />
<path d="M271 232H274.6V231H271Z M277.6 232H281.2V228.5H277.6Z M281.2 232H283.9V223H281.2Z M289.8 232H292.8V229H289.8Z M292.8 232H295.1V230.8H292.8Z M301 232H304.6V230H301Z M309.4 232H311V230.8H309.4Z M315.3 232H316.5V230.5H315.3Z M316.5 232H318.3V227.5H316.5Z M322.8 232H326.7V229H322.8Z M331.3 232H333.5V231H331.3Z M337.9 232H343.3V230.2H337.9Z M346.3 232H349.5V229.5H346.3Z" fill="#5b8ff5"/>
<line x1="256.4" y1="222.2" x2="256.4" y2="232" stroke="#6fa0f7" stroke-width="1" />
<line x1="255.9" y1="222.2" x2="259" y2="222.2" stroke="#6fa0f7" stroke-width="1" />
<line x1="255.9" y1="232" x2="259" y2="232" stroke="#6fa0f7" stroke-width="1" />
<line x1="258.6" y1="244.5" x2="362" y2="244.5" stroke="#dcdcdc" stroke-width="0.9" />
<path d="M271 244.2H274.6V243.2H271Z M277.6 244.2H281.2V240.7H277.6Z M281.2 244.2H283.9V235.2H281.2Z M289.8 244.2H292.8V241.2H289.8Z M292.8 244.2H295.1V243H292.8Z M301 244.2H304.6V242.2H301Z M309.4 244.2H311V243H309.4Z M315.3 244.2H316.5V242.7H315.3Z M316.5 244.2H318.3V239.7H316.5Z M322.8 244.2H326.7V241.2H322.8Z M331.3 244.2H333.5V243.2H331.3Z M337.9 244.2H343.3V242.4H337.9Z M346.3 244.2H349.5V241.7H346.3Z" fill="#5b8ff5"/>
<line x1="256.4" y1="234.4" x2="256.4" y2="244.2" stroke="#6fa0f7" stroke-width="1" />
<line x1="255.9" y1="234.4" x2="259" y2="234.4" stroke="#6fa0f7" stroke-width="1" />
<line x1="255.9" y1="244.2" x2="259" y2="244.2" stroke="#6fa0f7" stroke-width="1" />
<line x1="258.6" y1="256.7" x2="362" y2="256.7" stroke="#dcdcdc" stroke-width="0.9" />
<path d="M278.3 256.4H281.5V254.4H278.3Z M281.5 256.4H283.9V248.4H281.5Z M290.3 256.4H292.5V255.4H290.3Z M301.6 256.4H304V255.7H301.6Z M315.2 256.4H316.3V254.9H315.2Z M316.3 256.4H317.5V252.4H316.3Z M323.3 256.4H326.4V253.9H323.3Z M339.3 256.4H342V255.7H339.3Z M348 256.4H350V255.8H348Z" fill="#9c9c9c"/>
<line x1="256.4" y1="246.6" x2="256.4" y2="256.4" stroke="#aaaaaa" stroke-width="1" />
<line x1="255.9" y1="246.6" x2="259" y2="246.6" stroke="#aaaaaa" stroke-width="1" />
<line x1="255.9" y1="256.4" x2="259" y2="256.4" stroke="#aaaaaa" stroke-width="1" />
<text x="261.7" y="250.4" fill="#aaa" textLength="14.5" lengthAdjust="spacingAndGlyphs" font-size="7" >1500</text>
<text x="261.9" y="258.2" fill="#aaa" font-size="7" >0</text>
<line x1="258.6" y1="268.9" x2="362" y2="268.9" stroke="#dcdcdc" stroke-width="0.9" />
<path d="M278.3 268.6H281.5V266.6H278.3Z M281.5 268.6H283.9V260.6H281.5Z M290.3 268.6H292.5V267.6H290.3Z M301.6 268.6H304V267.9H301.6Z M315.2 268.6H316.3V267.1H315.2Z M316.3 268.6H317.5V264.6H316.3Z M323.3 268.6H326.4V266.1H323.3Z M339.3 268.6H342V267.9H339.3Z M348 268.6H350V268H348Z" fill="#9c9c9c"/>
<line x1="256.4" y1="258.8" x2="256.4" y2="268.6" stroke="#aaaaaa" stroke-width="1" />
<line x1="255.9" y1="258.8" x2="259" y2="258.8" stroke="#aaaaaa" stroke-width="1" />
<line x1="255.9" y1="268.6" x2="259" y2="268.6" stroke="#aaaaaa" stroke-width="1" />
<line x1="258.6" y1="281.1" x2="362" y2="281.1" stroke="#dcdcdc" stroke-width="0.9" />
<path d="M278.3 280.8H281.5V278.8H278.3Z M281.5 280.8H283.9V272.8H281.5Z M290.3 280.8H292.5V279.8H290.3Z M301.6 280.8H304V280.1H301.6Z M315.2 280.8H316.3V279.3H315.2Z M316.3 280.8H317.5V276.8H316.3Z M323.3 280.8H326.4V278.3H323.3Z M339.3 280.8H342V280.1H339.3Z M348 280.8H350V280.2H348Z" fill="#9c9c9c"/>
<line x1="256.4" y1="271" x2="256.4" y2="280.8" stroke="#aaaaaa" stroke-width="1" />
<line x1="255.9" y1="271" x2="259" y2="271" stroke="#aaaaaa" stroke-width="1" />
<line x1="255.9" y1="280.8" x2="259" y2="280.8" stroke="#aaaaaa" stroke-width="1" />
<line x1="258.6" y1="293.3" x2="362" y2="293.3" stroke="#dcdcdc" stroke-width="0.9" />
<path d="M271 293H274.6V292H271Z M278.3 293H280.7V290.5H278.3Z M280.7 293H284.2V287.5H280.7Z M290 293H293V291H290Z M301 293H304V292H301Z M315 293H316.3V291H315Z M316.3 293H318V289H316.3Z M322.8 293H326.7V290.5H322.8Z M339 293H342V292H339Z M347.5 293H349.5V291H347.5Z" fill="#000"/>
<line x1="256.4" y1="283.2" x2="256.4" y2="293" stroke="#000" stroke-width="1" />
<line x1="255.9" y1="283.2" x2="259" y2="283.2" stroke="#000" stroke-width="1" />
<line x1="255.9" y1="293" x2="259" y2="293" stroke="#000" stroke-width="1" />
<text x="261.7" y="287" textLength="14.5" lengthAdjust="spacingAndGlyphs" font-size="7" >1500</text>
<text x="261.9" y="294.8" font-size="7" >0</text>
<line x1="258.6" y1="305.5" x2="362" y2="305.5" stroke="#dcdcdc" stroke-width="0.9" />
<path d="M271 305.2H274.6V304.2H271Z M278.3 305.2H280.7V302.7H278.3Z M280.7 305.2H284.2V299.7H280.7Z M290 305.2H293V303.2H290Z M301 305.2H304V304.2H301Z M315 305.2H316.3V303.2H315Z M316.3 305.2H318V301.2H316.3Z M322.8 305.2H326.7V302.7H322.8Z M339 305.2H342V304.2H339Z M347.5 305.2H349.5V303.2H347.5Z" fill="#000"/>
<line x1="256.4" y1="295.4" x2="256.4" y2="305.2" stroke="#000" stroke-width="1" />
<line x1="255.9" y1="295.4" x2="259" y2="295.4" stroke="#000" stroke-width="1" />
<line x1="255.9" y1="305.2" x2="259" y2="305.2" stroke="#000" stroke-width="1" />
<line x1="258.6" y1="317.7" x2="362" y2="317.7" stroke="#dcdcdc" stroke-width="0.9" />
<path d="M271 317.4H274.6V316.4H271Z M278.3 317.4H280.7V314.9H278.3Z M280.7 317.4H284.2V311.9H280.7Z M290 317.4H293V315.4H290Z M301 317.4H304V316.4H301Z M315 317.4H316.3V315.4H315Z M316.3 317.4H318V313.4H316.3Z M322.8 317.4H326.7V314.9H322.8Z M339 317.4H342V316.4H339Z M347.5 317.4H349.5V315.4H347.5Z" fill="#000"/>
<line x1="256.4" y1="307.6" x2="256.4" y2="317.4" stroke="#000" stroke-width="1" />
<line x1="255.9" y1="307.6" x2="259" y2="307.6" stroke="#000" stroke-width="1" />
<line x1="255.9" y1="317.4" x2="259" y2="317.4" stroke="#000" stroke-width="1" />
<line x1="258.6" y1="170.2" x2="286.4" y2="170.2" stroke="#888" stroke-width="0.9" stroke-dasharray="1.2,1.6"/>
<line x1="258.6" y1="170.2" x2="258.6" y2="341.3" stroke="#888" stroke-width="0.9" stroke-dasharray="1.2,1.6"/>
<line x1="286.4" y1="170.2" x2="286.4" y2="341.3" stroke="#888" stroke-width="0.9" stroke-dasharray="1.2,1.6"/>
<line x1="258.6" y1="341.3" x2="367.3" y2="341.3" stroke="#999" stroke-width="0.9" stroke-dasharray="2.5,1.8"/>
<line x1="375.5" y1="175" x2="367.3" y2="341.3" stroke="#aaa" stroke-width="0.9" stroke-dasharray="2.5,1.8"/>
<line x1="367.3" y1="341.3" x2="377.5" y2="348.5" stroke="#aaa" stroke-width="0.9" stroke-dasharray="2.5,1.8"/>
<line x1="268.9" y1="323.6" x2="364.8" y2="323.6" stroke="#333" stroke-width="1" />
<rect x="260.2" y="321.6" width="8.7" height="4.1" fill="#000" />
<rect x="272.4" y="319.5" width="10.9" height="8.3" fill="#000" />
<rect x="289.5" y="319.3" width="4.4" height="8.7" fill="#000" />
<rect x="299.7" y="319.3" width="3.4" height="8.7" fill="#000" />
<rect x="309.9" y="319.3" width="6.9" height="8.7" fill="#000" />
<rect x="323.5" y="319.3" width="7.9" height="8.7" fill="#000" />
<rect x="336.9" y="319.3" width="16.4" height="8.7" fill="#000" />
<rect x="353.3" y="321.5" width="11.4" height="4.5" fill="#000" />
<path d="M265 322.4 L267 323.7 L265 325" fill="none" stroke="#fff" stroke-width="0.6" />
<path d="M359 322.4 L361 323.7 L359 325" fill="none" stroke="#fff" stroke-width="0.6" />
<text x="233.7" y="331.6" fill="#111" textLength="21.8" lengthAdjust="spacingAndGlyphs" font-size="9" >5'UTR</text>
<text x="266.6" y="340" font-weight="bold" fill="#d0203a" textLength="11.4" lengthAdjust="spacingAndGlyphs" font-size="8.6" >TIS</text>
<line x1="272.4" y1="334.8" x2="272.4" y2="330.5" stroke="#888" stroke-width="0.9" />
<path d="M270.9 331.5 L272.4 329 L273.9 331.5 Z" fill="#888" />
<text x="290.2" y="337.4" fill="#111" textLength="74.8" lengthAdjust="spacingAndGlyphs" font-size="8.6" >AT4G10340, <tspan font-style="italic">LHCB5</tspan></text>
<text transform="translate(364,176.5) rotate(-45)" text-anchor="middle" fill="#111" font-size="9" >Ribo</text>
<text transform="translate(366.3,195.5) rotate(-90)" text-anchor="middle" fill="#d07020" textLength="25" lengthAdjust="spacingAndGlyphs" font-size="8" >2268.3</text>
<text transform="translate(366.3,230.1) rotate(-90)" text-anchor="middle" fill="#3aa6f0" textLength="25" lengthAdjust="spacingAndGlyphs" font-size="8" >2142.6</text>
<text transform="translate(366.3,263.8) rotate(-90)" text-anchor="middle" fill="#aaa" textLength="25" lengthAdjust="spacingAndGlyphs" font-size="8" >4619.9</text>
<text transform="translate(366.3,303.5) rotate(-90)" text-anchor="middle" textLength="25" lengthAdjust="spacingAndGlyphs" font-size="8" >4319.8</text>
<text transform="translate(229.5,242.5) rotate(-90)" text-anchor="middle" font-weight="bold" textLength="47.4" lengthAdjust="spacingAndGlyphs" font-size="10.8" >Ribo-Seq</text>
<text transform="translate(243,208.8) rotate(-90)" text-anchor="middle" fill="#111" textLength="54" lengthAdjust="spacingAndGlyphs" font-size="9" >Inflorescence</text>
<text transform="translate(241.2,283.2) rotate(-90)" text-anchor="middle" fill="#111" textLength="35.6" lengthAdjust="spacingAndGlyphs" font-size="9" >Seedling</text>
<text transform="translate(253.4,191.4) rotate(-90)" text-anchor="middle" fill="#111" textLength="12.5" lengthAdjust="spacingAndGlyphs" font-size="9" >WT</text>
<text transform="translate(253.4,225.8) rotate(-90)" text-anchor="middle" font-style="italic" fill="#111" textLength="27.5" lengthAdjust="spacingAndGlyphs" font-size="9" >hot3-2</text>
<text transform="translate(253.4,264.6) rotate(-90)" text-anchor="middle" fill="#111" textLength="12.5" lengthAdjust="spacingAndGlyphs" font-size="9" >WT</text>
<text transform="translate(253.4,299) rotate(-90)" text-anchor="middle" font-style="italic" fill="#111" textLength="27.5" lengthAdjust="spacingAndGlyphs" font-size="9" >hot3-2</text>
<line x1="234.7" y1="179.5" x2="234.7" y2="309.7" stroke="#666" stroke-width="1" />
<line x1="244.6" y1="177.1" x2="244.6" y2="239.7" stroke="#666" stroke-width="1" />
<line x1="244.6" y1="250.3" x2="244.6" y2="314.5" stroke="#666" stroke-width="1" />
<line x1="377.6" y1="175.1" x2="377.6" y2="216.1" stroke="#dd8838" stroke-width="1" />
<line x1="377.1" y1="175.1" x2="380.2" y2="175.1" stroke="#dd8838" stroke-width="1" />
<line x1="377.1" y1="188" x2="380.2" y2="188" stroke="#dd8838" stroke-width="1" />
<line x1="377.1" y1="202.2" x2="380.2" y2="202.2" stroke="#dd8838" stroke-width="1" />
<line x1="377.1" y1="216.1" x2="380.2" y2="216.1" stroke="#dd8838" stroke-width="1" />
<text x="380.6" y="178.9" fill="#d07020" textLength="11" lengthAdjust="spacingAndGlyphs" font-size="7.5" >140</text>
<text x="380.2" y="188.3" fill="#d07020" font-size="7.5" >0</text>
<line x1="378" y1="188.3" x2="449.7" y2="188.3" stroke="#dcdcdc" stroke-width="0.9" />
<path d="M401.9 188 L401.9 188 L402.1 186.8 L404 186.5 L406 187 L408 186.7 L410 187 L412 186.5 L414 186.7 L416 186.2 L418 185.8 L419.5 184.5 L420.8 181.5 L422 174.8 L427.7 174.8 L427.9 187 L429.5 187 L429.7 174.8 L435.6 174.8 L435.8 185.5 L437.6 186 L437.8 188 L437.8 188 Z" fill="#c9650f"/>
<line x1="378" y1="202.5" x2="449.7" y2="202.5" stroke="#dcdcdc" stroke-width="0.9" />
<path d="M401.9 202.2 L401.9 202.2 L402.1 201 L404 200.7 L406 201.2 L408 200.9 L410 201.2 L412 200.7 L414 200.9 L416 200.4 L418 200 L419.5 198.7 L420.8 195.7 L422 188.6 L427.7 188.6 L427.9 201.2 L429.5 201.2 L429.7 188.6 L435.6 188.6 L435.8 199.7 L437.6 200.2 L437.8 202.2 L437.8 202.2 Z" fill="#c9650f"/>
<line x1="378" y1="216.4" x2="449.7" y2="216.4" stroke="#dcdcdc" stroke-width="0.9" />
<path d="M401.9 216.1 L401.9 216.1 L402.1 214.9 L404 214.6 L406 215.1 L408 214.8 L410 215.1 L412 214.6 L414 214.8 L416 214.3 L418 213.9 L419.5 212.6 L420.8 209.6 L422 202.8 L427.7 202.8 L427.9 215.1 L429.5 215.1 L429.7 202.8 L435.6 202.8 L435.8 213.6 L437.6 214.1 L437.8 216.1 L437.8 216.1 Z" fill="#c9650f"/>
<line x1="377.6" y1="219.6" x2="377.6" y2="260.4" stroke="#6fa0f7" stroke-width="1" />
<line x1="377.1" y1="219.6" x2="380.2" y2="219.6" stroke="#6fa0f7" stroke-width="1" />
<line x1="377.1" y1="232.1" x2="380.2" y2="232.1" stroke="#6fa0f7" stroke-width="1" />
<line x1="377.1" y1="246.3" x2="380.2" y2="246.3" stroke="#6fa0f7" stroke-width="1" />
<line x1="377.1" y1="260.4" x2="380.2" y2="260.4" stroke="#6fa0f7" stroke-width="1" />
<text x="380.6" y="223.4" fill="#3db5ee" textLength="11" lengthAdjust="spacingAndGlyphs" font-size="7.5" >140</text>
<text x="380.2" y="232.4" fill="#3db5ee" font-size="7.5" >0</text>
<line x1="378" y1="232.4" x2="449.7" y2="232.4" stroke="#dcdcdc" stroke-width="0.9" />
<path d="M402.2 232.1 L402.2 232.1 L402.4 231.3 L404.6 231.1 L404.8 220.48 L406 219.56 L407.5 220.22 L409.5 221.54 L410.3 222.2 L410.5 231.3 L413 231.3 L415 231.1 L417 230.6 L418.5 230.1 L419.8 228.6 L421.2 225.6 L422 218.9 L427.7 218.9 L427.9 231.1 L429.5 231.1 L429.7 218.9 L435.6 218.9 L435.8 229.6 L437.6 230.1 L437.8 232.1 L437.8 232.1 Z" fill="#5b8ff5"/>
<line x1="378" y1="246.6" x2="449.7" y2="246.6" stroke="#dcdcdc" stroke-width="0.9" />
<path d="M402.2 246.3 L402.2 246.3 L402.4 245.5 L404.6 245.3 L404.8 234.33 L406 233.38 L407.5 234.06 L409.5 235.42 L410.3 236.1 L410.5 245.5 L413 245.5 L415 245.3 L417 244.8 L418.5 244.3 L419.8 242.8 L421.2 239.8 L422 232.7 L427.7 232.7 L427.9 245.3 L429.5 245.3 L429.7 232.7 L435.6 232.7 L435.8 243.8 L437.6 244.3 L437.8 246.3 L437.8 246.3 Z" fill="#5b8ff5"/>
<line x1="378" y1="260.7" x2="449.7" y2="260.7" stroke="#dcdcdc" stroke-width="0.9" />
<path d="M402.2 260.4 L402.2 260.4 L402.4 259.6 L404.6 259.4 L404.8 248.52 L406 247.58 L407.5 248.25 L409.5 249.6 L410.3 250.28 L410.5 259.6 L413 259.6 L415 259.4 L417 258.9 L418.5 258.4 L419.8 256.9 L421.2 253.9 L422 246.9 L427.7 246.9 L427.9 259.4 L429.5 259.4 L429.7 246.9 L435.6 246.9 L435.8 257.9 L437.6 258.4 L437.8 260.4 L437.8 260.4 Z" fill="#5b8ff5"/>
<line x1="377.6" y1="263.8" x2="377.6" y2="304.4" stroke="#aaaaaa" stroke-width="1" />
<line x1="377.1" y1="263.8" x2="380.2" y2="263.8" stroke="#aaaaaa" stroke-width="1" />
<line x1="377.1" y1="276.7" x2="380.2" y2="276.7" stroke="#aaaaaa" stroke-width="1" />
<line x1="377.1" y1="290.6" x2="380.2" y2="290.6" stroke="#aaaaaa" stroke-width="1" />
<line x1="377.1" y1="304.4" x2="380.2" y2="304.4" stroke="#aaaaaa" stroke-width="1" />
<text x="380.6" y="267.6" fill="#aaa" textLength="11" lengthAdjust="spacingAndGlyphs" font-size="7.5" >200</text>
<text x="380.2" y="277" fill="#aaa" font-size="7.5" >0</text>
<line x1="378" y1="277" x2="449.7" y2="277" stroke="#dcdcdc" stroke-width="0.9" />
<path d="M402.3 276.7 L402.3 276.7 L402.6 275.2 L404.5 274.1 L406.5 274.9 L408.5 275.5 L410.5 275.2 L412.5 274.5 L414.5 274.1 L416.5 273.4 L418.5 272.5 L420 270.2 L421.2 267.2 L422 263.5 L427.7 263.5 L427.9 275.7 L429.5 275.7 L429.7 263.5 L435.6 263.5 L435.8 274.2 L437.6 274.7 L437.8 276.7 L437.8 276.7 Z" fill="#9c9c9c"/>
<line x1="378" y1="290.9" x2="449.7" y2="290.9" stroke="#dcdcdc" stroke-width="0.9" />
<path d="M402.3 290.6 L402.3 290.6 L402.6 289.1 L404.5 288 L406.5 288.8 L408.5 289.4 L410.5 289.1 L412.5 288.4 L414.5 288 L416.5 287.3 L418.5 286.4 L420 284.1 L421.2 281.1 L422 277.3 L427.7 277.3 L427.9 289.6 L429.5 289.6 L429.7 277.3 L435.6 277.3 L435.8 288.1 L437.6 288.6 L437.8 290.6 L437.8 290.6 Z" fill="#9c9c9c"/>
<line x1="378" y1="304.7" x2="449.7" y2="304.7" stroke="#dcdcdc" stroke-width="0.9" />
<path d="M402.3 304.4 L402.3 304.4 L402.6 302.9 L404.5 301.8 L406.5 302.6 L408.5 303.2 L410.5 302.9 L412.5 302.2 L414.5 301.8 L416.5 301.1 L418.5 300.2 L420 297.9 L421.2 294.9 L422 291.2 L427.7 291.2 L427.9 303.4 L429.5 303.4 L429.7 291.2 L435.6 291.2 L435.8 301.9 L437.6 302.4 L437.8 304.4 L437.8 304.4 Z" fill="#9c9c9c"/>
<line x1="377.6" y1="308.2" x2="377.6" y2="348.9" stroke="#000" stroke-width="1" />
<line x1="377.1" y1="308.2" x2="380.2" y2="308.2" stroke="#000" stroke-width="1" />
<line x1="377.1" y1="321.2" x2="380.2" y2="321.2" stroke="#000" stroke-width="1" />
<line x1="377.1" y1="335" x2="380.2" y2="335" stroke="#000" stroke-width="1" />
<line x1="377.1" y1="348.9" x2="380.2" y2="348.9" stroke="#000" stroke-width="1" />
<text x="380.6" y="312" textLength="11" lengthAdjust="spacingAndGlyphs" font-size="7.5" >200</text>
<text x="380.2" y="321.5" font-size="7.5" >0</text>
<line x1="378" y1="321.5" x2="449.7" y2="321.5" stroke="#dcdcdc" stroke-width="0.9" />
<path d="M402.2 321.2 L402.2 321.2 L402.4 320.4 L404.6 320.2 L404.8 309.58 L406 308.66 L407.5 309.32 L409.5 310.64 L410.3 311.3 L410.5 320.4 L413 320.4 L415 320.2 L417 319.7 L418.5 319.2 L419.8 317.7 L421.2 314.7 L422 308 L427.7 308 L427.9 320.2 L429.5 320.2 L429.7 308 L435.6 308 L435.8 318.7 L437.6 319.2 L437.8 321.2 L437.8 321.2 Z" fill="#000"/>
<line x1="378" y1="335.3" x2="449.7" y2="335.3" stroke="#dcdcdc" stroke-width="0.9" />
<path d="M402.2 335 L402.2 335 L402.4 334.2 L404.6 334 L404.8 323.38 L406 322.46 L407.5 323.12 L409.5 324.44 L410.3 325.1 L410.5 334.2 L413 334.2 L415 334 L417 333.5 L418.5 333 L419.8 331.5 L421.2 328.5 L422 321.8 L427.7 321.8 L427.9 334 L429.5 334 L429.7 321.8 L435.6 321.8 L435.8 332.5 L437.6 333 L437.8 335 L437.8 335 Z" fill="#000"/>
<line x1="378" y1="349.2" x2="449.7" y2="349.2" stroke="#dcdcdc" stroke-width="0.9" />
<path d="M402.2 348.9 L402.2 348.9 L402.4 348.1 L404.6 347.9 L404.8 337.2 L406 336.26 L407.5 336.93 L409.5 338.26 L410.3 338.93 L410.5 348.1 L413 348.1 L415 347.9 L417 347.4 L418.5 346.9 L419.8 345.4 L421.2 342.4 L422 335.6 L427.7 335.6 L427.9 347.9 L429.5 347.9 L429.7 335.6 L435.6 335.6 L435.8 346.4 L437.6 346.9 L437.8 348.9 L437.8 348.9 Z" fill="#000"/>
<text transform="translate(447.3,180) rotate(-45)" text-anchor="middle" fill="#111" font-size="9.2" >rPS</text>
<text transform="translate(458.3,179.6) rotate(-45)" text-anchor="middle" fill="#111" font-size="9.2" >TE</text>
<text transform="translate(448,195.2) rotate(-90)" text-anchor="middle" fill="#d07020" font-size="8" >1.2</text>
<text transform="translate(457.2,195.2) rotate(-90)" text-anchor="middle" fill="#d07020" font-size="8" >2.4</text>
<text transform="translate(448,238.2) rotate(-90)" text-anchor="middle" fill="#3aa6f0" font-size="8" >17.2</text>
<text transform="translate(457.2,238.2) rotate(-90)" text-anchor="middle" fill="#3aa6f0" font-size="8" >1.9</text>
<text transform="translate(448,283.1) rotate(-90)" text-anchor="middle" fill="#aaa" font-size="8" >1.8</text>
<text transform="translate(457.2,283.1) rotate(-90)" text-anchor="middle" fill="#aaa" font-size="8" >1.5</text>
<text transform="translate(448,326.6) rotate(-90)" text-anchor="middle" font-size="8" >17.8</text>
<text transform="translate(457.2,326.6) rotate(-90)" text-anchor="middle" font-size="8" >2.1</text>
<line x1="436.9" y1="353.6" x2="450" y2="353.6" stroke="#555" stroke-width="0.9" />
<rect x="378.5" y="351.8" width="29.2" height="3.7" fill="#000" />
<rect x="407.7" y="350.4" width="29.2" height="6.5" fill="#000" />
<path d="M390.8 352.5 L392.8 353.65 L390.8 354.8" fill="none" stroke="#fff" stroke-width="0.6" />
<path d="M421.3 352.5 L423.3 353.65 L421.3 354.8" fill="none" stroke="#fff" stroke-width="0.6" />
<path d="M443 351.8 L446 353.6 L443 355.4 Z" fill="#2244ee" />
<text x="377.7" y="362" fill="#111" textLength="22.7" lengthAdjust="spacingAndGlyphs" font-size="9" >5'UTR</text>
<text x="401.1" y="369.3" font-weight="bold" fill="#d0203a" textLength="12" lengthAdjust="spacingAndGlyphs" font-size="8.6" >TIS</text>
<line x1="407.7" y1="361.3" x2="407.7" y2="358.5" stroke="#888" stroke-width="0.9" />
<path d="M406.3 359.2 L407.7 356.9 L409.1 359.2 Z" fill="#888" />
<line x1="258.6" y1="361.3" x2="357.5" y2="361.3" stroke="#dcdcdc" stroke-width="0.9" />
<path d="M269.3 361 L269.3 361 L271.5 358.5 L274 356 L276.5 354.8 L278.5 354 L280.5 354.8 L282.5 354.7 L284.8 355 L284.8 361 Z" fill="#c9650f"/>
<path d="M289.2 361H296V356H289.2Z M299.6 361H304.4V356.5H299.6Z M323.1 361H332.9V356H323.1Z" fill="#c9650f"/>
<path d="M309.2 361 L309.2 356 L313 356.25 L317.8 357.5 L317.8 361 Z" fill="#c9650f"/>
<path d="M337 361 L337 356 L340 356.25 L342 357.1 L346 357.5 L348 358.25 L352 358.75 L355 359.5 L357 360.4 L357 361 Z" fill="#c9650f"/>
<line x1="256.4" y1="351.5" x2="256.4" y2="361" stroke="#dd8838" stroke-width="1" />
<line x1="255.9" y1="351.5" x2="259" y2="351.5" stroke="#dd8838" stroke-width="1" />
<line x1="255.9" y1="361" x2="259" y2="361" stroke="#dd8838" stroke-width="1" />
<text x="260.9" y="354.8" fill="#f07050" textLength="11.1" lengthAdjust="spacingAndGlyphs" font-size="7.2" >500</text>
<text x="261.9" y="362.6" fill="#f07050" font-size="7.2" >0</text>
<line x1="258.6" y1="373.43" x2="357.5" y2="373.43" stroke="#dcdcdc" stroke-width="0.9" />
<path d="M269.3 373.13 L269.3 373.13 L271.5 370.75 L274 368.38 L276.5 367.24 L278.5 366.48 L280.5 367.24 L282.5 367.14 L284.8 367.43 L284.8 373.13 Z" fill="#c9650f"/>
<path d="M289.2 373.13H296V368.38H289.2Z M299.6 373.13H304.4V368.86H299.6Z M323.1 373.13H332.9V368.38H323.1Z" fill="#c9650f"/>
<path d="M309.2 373.13 L309.2 368.38 L313 368.62 L317.8 369.81 L317.8 373.13 Z" fill="#c9650f"/>
<path d="M337 373.13 L337 368.38 L340 368.62 L342 369.43 L346 369.81 L348 370.52 L352 370.99 L355 371.7 L357 372.53 L357 373.13 Z" fill="#c9650f"/>
<line x1="256.4" y1="363.63" x2="256.4" y2="373.13" stroke="#dd8838" stroke-width="1" />
<line x1="255.9" y1="363.63" x2="259" y2="363.63" stroke="#dd8838" stroke-width="1" />
<line x1="255.9" y1="373.13" x2="259" y2="373.13" stroke="#dd8838" stroke-width="1" />
<line x1="258.6" y1="385.56" x2="357.5" y2="385.56" stroke="#dcdcdc" stroke-width="0.9" />
<path d="M269.3 385.26 L269.3 385.26 L271.5 382.96 L274 380.66 L276.5 379.56 L278.5 378.82 L280.5 379.56 L282.5 379.46 L284.8 379.74 L284.8 385.26 Z" fill="#c9650f"/>
<path d="M289.2 385.26H296V380.66H289.2Z M299.6 385.26H304.4V381.12H299.6Z M323.1 385.26H332.9V380.66H323.1Z" fill="#c9650f"/>
<path d="M309.2 385.26 L309.2 380.66 L313 380.89 L317.8 382.04 L317.8 385.26 Z" fill="#c9650f"/>
<path d="M337 385.26 L337 380.66 L340 380.89 L342 381.67 L346 382.04 L348 382.73 L352 383.19 L355 383.88 L357 384.66 L357 385.26 Z" fill="#c9650f"/>
<line x1="256.4" y1="375.76" x2="256.4" y2="385.26" stroke="#dd8838" stroke-width="1" />
<line x1="255.9" y1="375.76" x2="259" y2="375.76" stroke="#dd8838" stroke-width="1" />
<line x1="255.9" y1="385.26" x2="259" y2="385.26" stroke="#dd8838" stroke-width="1" />
<line x1="258.6" y1="397.69" x2="357.5" y2="397.69" stroke="#dcdcdc" stroke-width="0.9" />
<path d="M269.3 397.39 L269.3 397.39 L271.5 394.39 L274 391.89 L276.5 390.39 L278.3 388.89 L280.5 390.59 L282.5 390.79 L284.8 390.89 L284.8 397.39 Z" fill="#5b8ff5"/>
<path d="M289.2 397.39H296V391.39H289.2Z M299.6 397.39H304.4V391.89H299.6Z M323.1 397.39H332.9V391.89H323.1Z" fill="#5b8ff5"/>
<path d="M309.2 397.39 L309.2 391.89 L313 392.16 L317.8 393.39 L317.8 397.39 Z" fill="#5b8ff5"/>
<path d="M337 397.39 L337 391.89 L340 392.16 L342 393.1 L346 393.54 L348 394.37 L352 394.91 L355 395.74 L357 396.79 L357 397.39 Z" fill="#5b8ff5"/>
<line x1="256.4" y1="387.89" x2="256.4" y2="397.39" stroke="#6fa0f7" stroke-width="1" />
<line x1="255.9" y1="387.89" x2="259" y2="387.89" stroke="#6fa0f7" stroke-width="1" />
<line x1="255.9" y1="397.39" x2="259" y2="397.39" stroke="#6fa0f7" stroke-width="1" />
<text x="260.9" y="391.19" fill="#3a8fd8" textLength="11.1" lengthAdjust="spacingAndGlyphs" font-size="7.2" >500</text>
<text x="261.9" y="398.99" fill="#3a8fd8" font-size="7.2" >0</text>
<line x1="258.6" y1="409.82" x2="357.5" y2="409.82" stroke="#dcdcdc" stroke-width="0.9" />
<path d="M269.3 409.52 L269.3 409.52 L271.5 406.67 L274 404.29 L276.5 402.87 L278.3 401.44 L280.5 403.06 L282.5 403.25 L284.8 403.34 L284.8 409.52 Z" fill="#5b8ff5"/>
<path d="M289.2 409.52H296V403.82H289.2Z M299.6 409.52H304.4V404.29H299.6Z M323.1 409.52H332.9V404.29H323.1Z" fill="#5b8ff5"/>
<path d="M309.2 409.52 L309.2 404.29 L313 404.56 L317.8 405.72 L317.8 409.52 Z" fill="#5b8ff5"/>
<path d="M337 409.52 L337 404.29 L340 404.56 L342 405.44 L346 405.86 L348 406.65 L352 407.17 L355 407.95 L357 408.92 L357 409.52 Z" fill="#5b8ff5"/>
<line x1="256.4" y1="400.02" x2="256.4" y2="409.52" stroke="#6fa0f7" stroke-width="1" />
<line x1="255.9" y1="400.02" x2="259" y2="400.02" stroke="#6fa0f7" stroke-width="1" />
<line x1="255.9" y1="409.52" x2="259" y2="409.52" stroke="#6fa0f7" stroke-width="1" />
<line x1="258.6" y1="421.95" x2="357.5" y2="421.95" stroke="#dcdcdc" stroke-width="0.9" />
<path d="M269.3 421.65 L269.3 421.65 L271.5 418.89 L274 416.59 L276.5 415.21 L278.3 413.83 L280.5 415.39 L282.5 415.58 L284.8 415.67 L284.8 421.65 Z" fill="#5b8ff5"/>
<path d="M289.2 421.65H296V416.13H289.2Z M299.6 421.65H304.4V416.59H299.6Z M323.1 421.65H332.9V416.59H323.1Z" fill="#5b8ff5"/>
<path d="M309.2 421.65 L309.2 416.59 L313 416.84 L317.8 417.97 L317.8 421.65 Z" fill="#5b8ff5"/>
<path d="M337 421.65 L337 416.59 L340 416.84 L342 417.7 L346 418.11 L348 418.87 L352 419.37 L355 420.13 L357 421.05 L357 421.65 Z" fill="#5b8ff5"/>
<line x1="256.4" y1="412.15" x2="256.4" y2="421.65" stroke="#6fa0f7" stroke-width="1" />
<line x1="255.9" y1="412.15" x2="259" y2="412.15" stroke="#6fa0f7" stroke-width="1" />
<line x1="255.9" y1="421.65" x2="259" y2="421.65" stroke="#6fa0f7" stroke-width="1" />
<line x1="258.6" y1="434.08" x2="357.5" y2="434.08" stroke="#dcdcdc" stroke-width="0.9" />
<path d="M269.3 433.78 L269.3 433.78 L271.5 430.28 L274 427.28 L276.5 425.58 L278.3 424.28 L280.5 425.58 L282.5 425.78 L284.8 425.98 L284.8 433.78 Z" fill="#9c9c9c"/>
<path d="M289.2 433.78H296V427.28H289.2Z M299.6 433.78H304.4V428.28H299.6Z M323.1 433.78H332.9V427.78H323.1Z" fill="#9c9c9c"/>
<path d="M309.2 433.78 L309.2 428.28 L313 428.55 L317.8 429.78 L317.8 433.78 Z" fill="#9c9c9c"/>
<path d="M337 433.78 L337 427.78 L340 428.08 L342 429.1 L346 429.58 L348 430.48 L352 431.08 L355 431.98 L357 432.98 L357 433.78 Z" fill="#9c9c9c"/>
<line x1="256.4" y1="424.28" x2="256.4" y2="433.78" stroke="#aaaaaa" stroke-width="1" />
<line x1="255.9" y1="424.28" x2="259" y2="424.28" stroke="#aaaaaa" stroke-width="1" />
<line x1="255.9" y1="433.78" x2="259" y2="433.78" stroke="#aaaaaa" stroke-width="1" />
<text x="260.9" y="427.58" fill="#999" textLength="15" lengthAdjust="spacingAndGlyphs" font-size="7.2" >1800</text>
<text x="261.9" y="435.38" fill="#999" font-size="7.2" >0</text>
<line x1="258.6" y1="446.21" x2="357.5" y2="446.21" stroke="#dcdcdc" stroke-width="0.9" />
<path d="M269.3 445.91 L269.3 445.91 L271.5 442.59 L274 439.74 L276.5 438.12 L278.3 436.89 L280.5 438.12 L282.5 438.31 L284.8 438.5 L284.8 445.91 Z" fill="#9c9c9c"/>
<path d="M289.2 445.91H296V439.74H289.2Z M299.6 445.91H304.4V440.69H299.6Z M323.1 445.91H332.9V440.21H323.1Z" fill="#9c9c9c"/>
<path d="M309.2 445.91 L309.2 440.69 L313 440.95 L317.8 442.11 L317.8 445.91 Z" fill="#9c9c9c"/>
<path d="M337 445.91 L337 440.21 L340 440.5 L342 441.46 L346 441.92 L348 442.78 L352 443.35 L355 444.2 L357 445.11 L357 445.91 Z" fill="#9c9c9c"/>
<line x1="256.4" y1="436.41" x2="256.4" y2="445.91" stroke="#aaaaaa" stroke-width="1" />
<line x1="255.9" y1="436.41" x2="259" y2="436.41" stroke="#aaaaaa" stroke-width="1" />
<line x1="255.9" y1="445.91" x2="259" y2="445.91" stroke="#aaaaaa" stroke-width="1" />
<line x1="258.6" y1="458.34" x2="357.5" y2="458.34" stroke="#dcdcdc" stroke-width="0.9" />
<path d="M269.3 458.04 L269.3 458.04 L271.5 454.82 L274 452.06 L276.5 450.5 L278.3 449.3 L280.5 450.5 L282.5 450.68 L284.8 450.86 L284.8 458.04 Z" fill="#9c9c9c"/>
<path d="M289.2 458.04H296V452.06H289.2Z M299.6 458.04H304.4V452.98H299.6Z M323.1 458.04H332.9V452.52H323.1Z" fill="#9c9c9c"/>
<path d="M309.2 458.04 L309.2 452.98 L313 453.23 L317.8 454.36 L317.8 458.04 Z" fill="#9c9c9c"/>
<path d="M337 458.04 L337 452.52 L340 452.8 L342 453.73 L346 454.18 L348 455 L352 455.56 L355 456.38 L357 457.24 L357 458.04 Z" fill="#9c9c9c"/>
<line x1="256.4" y1="448.54" x2="256.4" y2="458.04" stroke="#aaaaaa" stroke-width="1" />
<line x1="255.9" y1="448.54" x2="259" y2="448.54" stroke="#aaaaaa" stroke-width="1" />
<line x1="255.9" y1="458.04" x2="259" y2="458.04" stroke="#aaaaaa" stroke-width="1" />
<line x1="258.6" y1="470.47" x2="357.5" y2="470.47" stroke="#dcdcdc" stroke-width="0.9" />
<path d="M269.3 470.17 L269.3 470.17 L271.5 468.17 L274 466.67 L276.5 465.77 L278.3 465.17 L280.5 465.57 L282.5 465.67 L284.8 465.87 L284.8 470.17 Z" fill="#000"/>
<path d="M289.2 470.17H296V467.17H289.2Z M299.6 470.17H304.4V467.67H299.6Z M323.1 470.17H332.9V467.17H323.1Z" fill="#000"/>
<path d="M309.2 470.17 L309.2 467.57 L313 467.7 L317.8 467.97 L317.8 470.17 Z" fill="#000"/>
<path d="M337 470.17 L337 467.17 L340 467.32 L342 467.83 L346 468.07 L348 468.52 L352 468.82 L355 469.27 L357 469.87 L357 470.17 Z" fill="#000"/>
<line x1="256.4" y1="460.67" x2="256.4" y2="470.17" stroke="#000" stroke-width="1" />
<line x1="255.9" y1="460.67" x2="259" y2="460.67" stroke="#000" stroke-width="1" />
<line x1="255.9" y1="470.17" x2="259" y2="470.17" stroke="#000" stroke-width="1" />
<text x="260.9" y="463.97" textLength="15" lengthAdjust="spacingAndGlyphs" font-size="7.2" >1800</text>
<text x="261.9" y="471.77" font-size="7.2" >0</text>
<line x1="258.6" y1="482.6" x2="357.5" y2="482.6" stroke="#dcdcdc" stroke-width="0.9" />
<path d="M269.3 482.3 L269.3 482.3 L271.5 480.4 L274 478.98 L276.5 478.12 L278.3 477.55 L280.5 477.93 L282.5 478.03 L284.8 478.22 L284.8 482.3 Z" fill="#000"/>
<path d="M289.2 482.3H296V479.45H289.2Z M299.6 482.3H304.4V479.93H299.6Z M323.1 482.3H332.9V479.45H323.1Z" fill="#000"/>
<path d="M309.2 482.3 L309.2 479.83 L313 479.95 L317.8 480.21 L317.8 482.3 Z" fill="#000"/>
<path d="M337 482.3 L337 479.45 L340 479.59 L342 480.08 L346 480.31 L348 480.73 L352 481.02 L355 481.44 L357 482 L357 482.3 Z" fill="#000"/>
<line x1="256.4" y1="472.8" x2="256.4" y2="482.3" stroke="#000" stroke-width="1" />
<line x1="255.9" y1="472.8" x2="259" y2="472.8" stroke="#000" stroke-width="1" />
<line x1="255.9" y1="482.3" x2="259" y2="482.3" stroke="#000" stroke-width="1" />
<line x1="258.6" y1="494.73" x2="357.5" y2="494.73" stroke="#dcdcdc" stroke-width="0.9" />
<path d="M269.3 494.43 L269.3 494.43 L271.5 492.59 L274 491.21 L276.5 490.38 L278.3 489.83 L280.5 490.2 L282.5 490.29 L284.8 490.47 L284.8 494.43 Z" fill="#000"/>
<path d="M289.2 494.43H296V491.67H289.2Z M299.6 494.43H304.4V492.13H299.6Z M323.1 494.43H332.9V491.67H323.1Z" fill="#000"/>
<path d="M309.2 494.43 L309.2 492.04 L313 492.16 L317.8 492.41 L317.8 494.43 Z" fill="#000"/>
<path d="M337 494.43 L337 491.67 L340 491.81 L342 492.28 L346 492.5 L348 492.91 L352 493.19 L355 493.6 L357 494.13 L357 494.43 Z" fill="#000"/>
<line x1="256.4" y1="484.93" x2="256.4" y2="494.43" stroke="#000" stroke-width="1" />
<line x1="255.9" y1="484.93" x2="259" y2="484.93" stroke="#000" stroke-width="1" />
<line x1="255.9" y1="494.43" x2="259" y2="494.43" stroke="#000" stroke-width="1" />
<text transform="translate(363.5,352) rotate(-45)" text-anchor="middle" fill="#111" font-size="9" >RNA</text>
<text transform="translate(365,373.5) rotate(-90)" text-anchor="middle" fill="#d27a30" textLength="20.5" lengthAdjust="spacingAndGlyphs" font-size="8" >937.4</text>
<text transform="translate(365,403.8) rotate(-90)" text-anchor="middle" fill="#3aa6f0" textLength="22.3" lengthAdjust="spacingAndGlyphs" font-size="8" >1148.0</text>
<text transform="translate(365,440) rotate(-90)" text-anchor="middle" fill="#aaa" textLength="26.7" lengthAdjust="spacingAndGlyphs" font-size="8" >3130.9</text>
<text transform="translate(365,477.9) rotate(-90)" text-anchor="middle" textLength="24.1" lengthAdjust="spacingAndGlyphs" font-size="8" >2100.3</text>
<text transform="translate(229.5,420.7) rotate(-90)" text-anchor="middle" font-weight="bold" textLength="50.6" lengthAdjust="spacingAndGlyphs" font-size="10.8" >RNA-Seq</text>
<text transform="translate(243,386.3) rotate(-90)" text-anchor="middle" fill="#111" textLength="53.5" lengthAdjust="spacingAndGlyphs" font-size="9" >Inflorescence</text>
<text transform="translate(241.2,459.1) rotate(-90)" text-anchor="middle" fill="#111" textLength="35" lengthAdjust="spacingAndGlyphs" font-size="9" >Seedling</text>
<text transform="translate(253.6,368.5) rotate(-90)" text-anchor="middle" fill="#111" textLength="12.5" lengthAdjust="spacingAndGlyphs" font-size="9" >WT</text>
<text transform="translate(253.6,403.2) rotate(-90)" text-anchor="middle" font-style="italic" fill="#111" textLength="27.5" lengthAdjust="spacingAndGlyphs" font-size="9" >hot3-2</text>
<text transform="translate(253.6,441.7) rotate(-90)" text-anchor="middle" fill="#111" textLength="12.5" lengthAdjust="spacingAndGlyphs" font-size="9" >WT</text>
<text transform="translate(253.6,476) rotate(-90)" text-anchor="middle" font-style="italic" fill="#111" textLength="27.5" lengthAdjust="spacingAndGlyphs" font-size="9" >hot3-2</text>
<line x1="234.7" y1="356" x2="234.7" y2="488" stroke="#666" stroke-width="1" />
<line x1="245.3" y1="354.3" x2="245.3" y2="421" stroke="#666" stroke-width="1" />
<line x1="245.3" y1="426.6" x2="245.3" y2="491.6" stroke="#666" stroke-width="1" />
</svg></body></html>
